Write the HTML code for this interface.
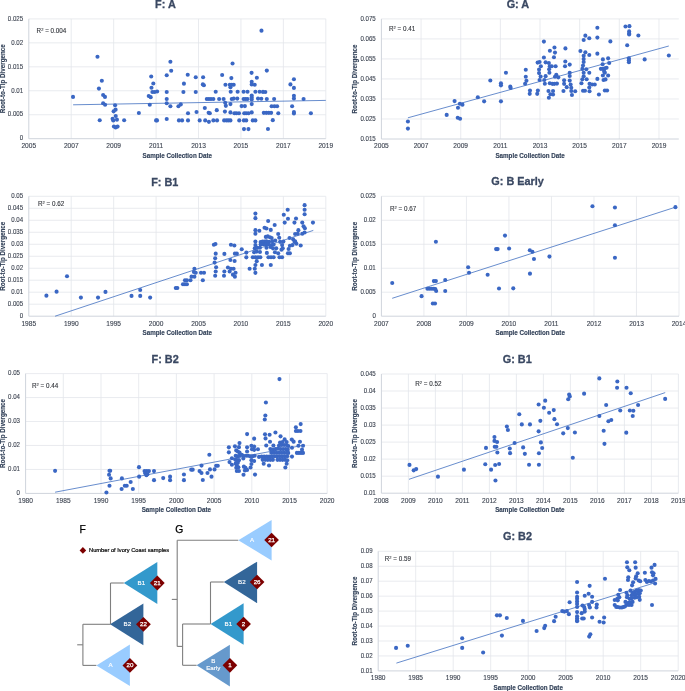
<!DOCTYPE html>
<html><head><meta charset="utf-8"><style>
html,body{margin:0;padding:0;background:#fff;}
body{width:685px;height:691px;overflow:hidden;}
svg{display:block;font-family:"Liberation Sans", sans-serif;will-change:transform;}
</style></head><body>
<svg width="685" height="691" viewBox="0 0 685 691">
<rect width="685" height="691" fill="#fff"/>
<line x1="71.23" y1="18.90" x2="71.23" y2="138.70" stroke="#e3e6eb" stroke-width="0.8"/>
<line x1="113.66" y1="18.90" x2="113.66" y2="138.70" stroke="#e3e6eb" stroke-width="0.8"/>
<line x1="156.09" y1="18.90" x2="156.09" y2="138.70" stroke="#e3e6eb" stroke-width="0.8"/>
<line x1="198.51" y1="18.90" x2="198.51" y2="138.70" stroke="#e3e6eb" stroke-width="0.8"/>
<line x1="240.94" y1="18.90" x2="240.94" y2="138.70" stroke="#e3e6eb" stroke-width="0.8"/>
<line x1="283.37" y1="18.90" x2="283.37" y2="138.70" stroke="#e3e6eb" stroke-width="0.8"/>
<line x1="325.80" y1="18.90" x2="325.80" y2="138.70" stroke="#e3e6eb" stroke-width="0.8"/>
<line x1="28.80" y1="114.74" x2="325.80" y2="114.74" stroke="#e3e6eb" stroke-width="0.8"/>
<line x1="28.80" y1="90.78" x2="325.80" y2="90.78" stroke="#e3e6eb" stroke-width="0.8"/>
<line x1="28.80" y1="66.82" x2="325.80" y2="66.82" stroke="#e3e6eb" stroke-width="0.8"/>
<line x1="28.80" y1="42.86" x2="325.80" y2="42.86" stroke="#e3e6eb" stroke-width="0.8"/>
<line x1="28.80" y1="18.90" x2="325.80" y2="18.90" stroke="#e3e6eb" stroke-width="0.8"/>
<line x1="28.80" y1="18.90" x2="28.80" y2="138.70" stroke="#cfd4dc" stroke-width="1"/>
<line x1="28.80" y1="138.70" x2="325.80" y2="138.70" stroke="#cfd4dc" stroke-width="1"/>
<text x="23.20" y="140.45" text-anchor="end" font-size="6.7" fill="#3e4552" stroke="#3e4552" stroke-width="0.12" textLength="3.41" lengthAdjust="spacingAndGlyphs">0</text>
<text x="23.20" y="116.49" text-anchor="end" font-size="6.7" fill="#3e4552" stroke="#3e4552" stroke-width="0.12" textLength="15.34" lengthAdjust="spacingAndGlyphs">0.005</text>
<text x="23.20" y="92.53" text-anchor="end" font-size="6.7" fill="#3e4552" stroke="#3e4552" stroke-width="0.12" textLength="11.93" lengthAdjust="spacingAndGlyphs">0.01</text>
<text x="23.20" y="68.57" text-anchor="end" font-size="6.7" fill="#3e4552" stroke="#3e4552" stroke-width="0.12" textLength="15.34" lengthAdjust="spacingAndGlyphs">0.015</text>
<text x="23.20" y="44.61" text-anchor="end" font-size="6.7" fill="#3e4552" stroke="#3e4552" stroke-width="0.12" textLength="11.93" lengthAdjust="spacingAndGlyphs">0.02</text>
<text x="23.20" y="20.65" text-anchor="end" font-size="6.7" fill="#3e4552" stroke="#3e4552" stroke-width="0.12" textLength="15.34" lengthAdjust="spacingAndGlyphs">0.025</text>
<text x="28.80" y="148.05" text-anchor="middle" font-size="6.6" fill="#3e4552" stroke="#3e4552" stroke-width="0.12">2005</text>
<text x="71.23" y="148.05" text-anchor="middle" font-size="6.6" fill="#3e4552" stroke="#3e4552" stroke-width="0.12">2007</text>
<text x="113.66" y="148.05" text-anchor="middle" font-size="6.6" fill="#3e4552" stroke="#3e4552" stroke-width="0.12">2009</text>
<text x="156.09" y="148.05" text-anchor="middle" font-size="6.6" fill="#3e4552" stroke="#3e4552" stroke-width="0.12">2011</text>
<text x="198.51" y="148.05" text-anchor="middle" font-size="6.6" fill="#3e4552" stroke="#3e4552" stroke-width="0.12">2013</text>
<text x="240.94" y="148.05" text-anchor="middle" font-size="6.6" fill="#3e4552" stroke="#3e4552" stroke-width="0.12">2015</text>
<text x="283.37" y="148.05" text-anchor="middle" font-size="6.6" fill="#3e4552" stroke="#3e4552" stroke-width="0.12">2017</text>
<text x="325.80" y="148.05" text-anchor="middle" font-size="6.6" fill="#3e4552" stroke="#3e4552" stroke-width="0.12">2019</text>
<text x="177.30" y="157.60" text-anchor="middle" font-size="6.8" font-weight="bold" fill="#34435a" stroke="#34435a" stroke-width="0.15" textLength="69.4" lengthAdjust="spacingAndGlyphs">Sample Collection Date</text>
<text transform="translate(4.70,78.80) rotate(-90)" text-anchor="middle" font-size="6.9" font-weight="bold" fill="#34435a" stroke="#34435a" stroke-width="0.15" textLength="69" lengthAdjust="spacingAndGlyphs">Root-to-Tip Divergence</text>
<text x="165.40" y="8.10" text-anchor="middle" font-size="11.5" font-weight="bold" fill="#3a4862" stroke="#3a4862" stroke-width="0.3" textLength="20.72" lengthAdjust="spacingAndGlyphs">F: A</text>
<text x="36.60" y="33.00" font-size="6.3" fill="#34373d" stroke="#34373d" stroke-width="0.12">R<tspan font-size="4" dy="-2.1">2</tspan><tspan dy="2.1"> = 0.004</tspan></text>
<line x1="73.1" y1="104.8" x2="325.8" y2="100.4" stroke="#4170c0" stroke-width="0.8"/>
<circle cx="97.48" cy="56.82" r="2.05" fill="#3a67c4"/>
<circle cx="101.82" cy="80.74" r="2.05" fill="#3a67c4"/>
<circle cx="98.93" cy="88.62" r="2.05" fill="#3a67c4"/>
<circle cx="103.13" cy="94.93" r="2.05" fill="#3a67c4"/>
<circle cx="104.97" cy="96.9" r="2.05" fill="#3a67c4"/>
<circle cx="103.13" cy="103.2" r="2.05" fill="#3a67c4"/>
<circle cx="105.1" cy="104.78" r="2.05" fill="#3a67c4"/>
<circle cx="99.72" cy="120.28" r="2.05" fill="#3a67c4"/>
<circle cx="115.09" cy="105.31" r="2.05" fill="#3a67c4"/>
<circle cx="115.61" cy="109.64" r="2.05" fill="#3a67c4"/>
<circle cx="113.64" cy="111.35" r="2.05" fill="#3a67c4"/>
<circle cx="115.74" cy="115.95" r="2.05" fill="#3a67c4"/>
<circle cx="112.59" cy="118.84" r="2.05" fill="#3a67c4"/>
<circle cx="113.25" cy="120.55" r="2.05" fill="#3a67c4"/>
<circle cx="116.93" cy="119.63" r="2.05" fill="#3a67c4"/>
<circle cx="113.91" cy="126.46" r="2.05" fill="#3a67c4"/>
<circle cx="117.58" cy="126.59" r="2.05" fill="#3a67c4"/>
<circle cx="115.61" cy="127.38" r="2.05" fill="#3a67c4"/>
<circle cx="124.15" cy="120.28" r="2.05" fill="#3a67c4"/>
<circle cx="138.87" cy="113.06" r="2.05" fill="#3a67c4"/>
<circle cx="151.22" cy="76.53" r="2.05" fill="#3a67c4"/>
<circle cx="153.32" cy="83.5" r="2.05" fill="#3a67c4"/>
<circle cx="151.48" cy="87.7" r="2.05" fill="#3a67c4"/>
<circle cx="152.4" cy="92.04" r="2.05" fill="#3a67c4"/>
<circle cx="154.64" cy="92.04" r="2.05" fill="#3a67c4"/>
<circle cx="157.13" cy="91.51" r="2.05" fill="#3a67c4"/>
<circle cx="148.72" cy="95.98" r="2.05" fill="#3a67c4"/>
<circle cx="150.69" cy="97.16" r="2.05" fill="#3a67c4"/>
<circle cx="149.77" cy="104.78" r="2.05" fill="#3a67c4"/>
<circle cx="156.08" cy="120.42" r="2.05" fill="#3a67c4"/>
<circle cx="157.0" cy="120.42" r="2.05" fill="#3a67c4"/>
<circle cx="170.4" cy="61.82" r="2.05" fill="#3a67c4"/>
<circle cx="171.19" cy="70.75" r="2.05" fill="#3a67c4"/>
<circle cx="166.72" cy="75.22" r="2.05" fill="#3a67c4"/>
<circle cx="166.72" cy="92.04" r="2.05" fill="#3a67c4"/>
<circle cx="166.72" cy="99.0" r="2.05" fill="#3a67c4"/>
<circle cx="166.72" cy="103.2" r="2.05" fill="#3a67c4"/>
<circle cx="170.4" cy="106.23" r="2.05" fill="#3a67c4"/>
<circle cx="166.72" cy="118.97" r="2.05" fill="#3a67c4"/>
<circle cx="73.02" cy="96.9" r="2.05" fill="#3a67c4"/>
<circle cx="187.74" cy="74.82" r="2.05" fill="#3a67c4"/>
<circle cx="183.93" cy="83.63" r="2.05" fill="#3a67c4"/>
<circle cx="183.4" cy="92.04" r="2.05" fill="#3a67c4"/>
<circle cx="178.41" cy="106.23" r="2.05" fill="#3a67c4"/>
<circle cx="180.77" cy="104.39" r="2.05" fill="#3a67c4"/>
<circle cx="188.0" cy="113.32" r="2.05" fill="#3a67c4"/>
<circle cx="178.93" cy="120.42" r="2.05" fill="#3a67c4"/>
<circle cx="182.09" cy="120.42" r="2.05" fill="#3a67c4"/>
<circle cx="188.0" cy="120.42" r="2.05" fill="#3a67c4"/>
<circle cx="195.75" cy="77.32" r="2.05" fill="#3a67c4"/>
<circle cx="195.75" cy="92.04" r="2.05" fill="#3a67c4"/>
<circle cx="196.54" cy="112.01" r="2.05" fill="#3a67c4"/>
<circle cx="199.69" cy="120.42" r="2.05" fill="#3a67c4"/>
<circle cx="203.11" cy="77.32" r="2.05" fill="#3a67c4"/>
<circle cx="202.85" cy="84.42" r="2.05" fill="#3a67c4"/>
<circle cx="203.9" cy="85.2" r="2.05" fill="#3a67c4"/>
<circle cx="204.82" cy="108.07" r="2.05" fill="#3a67c4"/>
<circle cx="206.79" cy="99.0" r="2.05" fill="#3a67c4"/>
<circle cx="208.89" cy="99.0" r="2.05" fill="#3a67c4"/>
<circle cx="210.99" cy="99.0" r="2.05" fill="#3a67c4"/>
<circle cx="213.36" cy="99.0" r="2.05" fill="#3a67c4"/>
<circle cx="208.63" cy="112.8" r="2.05" fill="#3a67c4"/>
<circle cx="209.81" cy="113.32" r="2.05" fill="#3a67c4"/>
<circle cx="205.21" cy="120.42" r="2.05" fill="#3a67c4"/>
<circle cx="208.89" cy="121.86" r="2.05" fill="#3a67c4"/>
<circle cx="213.36" cy="120.42" r="2.05" fill="#3a67c4"/>
<circle cx="217.04" cy="120.42" r="2.05" fill="#3a67c4"/>
<circle cx="215.72" cy="91.77" r="2.05" fill="#3a67c4"/>
<circle cx="216.77" cy="110.17" r="2.05" fill="#3a67c4"/>
<circle cx="219.14" cy="99.0" r="2.05" fill="#3a67c4"/>
<circle cx="222.16" cy="74.96" r="2.05" fill="#3a67c4"/>
<circle cx="223.61" cy="99.0" r="2.05" fill="#3a67c4"/>
<circle cx="224.92" cy="111.61" r="2.05" fill="#3a67c4"/>
<circle cx="225.45" cy="84.81" r="2.05" fill="#3a67c4"/>
<circle cx="225.18" cy="102.81" r="2.05" fill="#3a67c4"/>
<circle cx="225.84" cy="105.83" r="2.05" fill="#3a67c4"/>
<circle cx="224.13" cy="120.42" r="2.05" fill="#3a67c4"/>
<circle cx="226.5" cy="120.42" r="2.05" fill="#3a67c4"/>
<circle cx="228.47" cy="120.42" r="2.05" fill="#3a67c4"/>
<circle cx="230.44" cy="120.42" r="2.05" fill="#3a67c4"/>
<circle cx="232.54" cy="63.53" r="2.05" fill="#3a67c4"/>
<circle cx="231.36" cy="78.11" r="2.05" fill="#3a67c4"/>
<circle cx="229.78" cy="84.81" r="2.05" fill="#3a67c4"/>
<circle cx="231.75" cy="84.81" r="2.05" fill="#3a67c4"/>
<circle cx="233.72" cy="84.81" r="2.05" fill="#3a67c4"/>
<circle cx="230.44" cy="87.31" r="2.05" fill="#3a67c4"/>
<circle cx="230.7" cy="91.77" r="2.05" fill="#3a67c4"/>
<circle cx="231.75" cy="99.0" r="2.05" fill="#3a67c4"/>
<circle cx="233.72" cy="98.61" r="2.05" fill="#3a67c4"/>
<circle cx="230.44" cy="104.12" r="2.05" fill="#3a67c4"/>
<circle cx="230.44" cy="112.4" r="2.05" fill="#3a67c4"/>
<circle cx="237.66" cy="91.77" r="2.05" fill="#3a67c4"/>
<circle cx="237.27" cy="98.61" r="2.05" fill="#3a67c4"/>
<circle cx="234.38" cy="113.32" r="2.05" fill="#3a67c4"/>
<circle cx="236.35" cy="113.32" r="2.05" fill="#3a67c4"/>
<circle cx="238.98" cy="113.32" r="2.05" fill="#3a67c4"/>
<circle cx="239.24" cy="120.42" r="2.05" fill="#3a67c4"/>
<circle cx="243.58" cy="91.77" r="2.05" fill="#3a67c4"/>
<circle cx="247.52" cy="91.77" r="2.05" fill="#3a67c4"/>
<circle cx="243.58" cy="99.0" r="2.05" fill="#3a67c4"/>
<circle cx="245.55" cy="99.0" r="2.05" fill="#3a67c4"/>
<circle cx="247.52" cy="99.0" r="2.05" fill="#3a67c4"/>
<circle cx="241.61" cy="106.09" r="2.05" fill="#3a67c4"/>
<circle cx="244.89" cy="106.09" r="2.05" fill="#3a67c4"/>
<circle cx="244.23" cy="113.32" r="2.05" fill="#3a67c4"/>
<circle cx="246.2" cy="113.32" r="2.05" fill="#3a67c4"/>
<circle cx="248.57" cy="113.32" r="2.05" fill="#3a67c4"/>
<circle cx="243.84" cy="120.42" r="2.05" fill="#3a67c4"/>
<circle cx="246.2" cy="120.42" r="2.05" fill="#3a67c4"/>
<circle cx="243.97" cy="129.09" r="2.05" fill="#3a67c4"/>
<circle cx="248.44" cy="129.09" r="2.05" fill="#3a67c4"/>
<circle cx="251.59" cy="72.85" r="2.05" fill="#3a67c4"/>
<circle cx="256.85" cy="77.72" r="2.05" fill="#3a67c4"/>
<circle cx="251.72" cy="81.79" r="2.05" fill="#3a67c4"/>
<circle cx="251.72" cy="84.42" r="2.05" fill="#3a67c4"/>
<circle cx="254.74" cy="84.81" r="2.05" fill="#3a67c4"/>
<circle cx="255.4" cy="91.77" r="2.05" fill="#3a67c4"/>
<circle cx="259.61" cy="91.77" r="2.05" fill="#3a67c4"/>
<circle cx="251.72" cy="95.58" r="2.05" fill="#3a67c4"/>
<circle cx="251.72" cy="97.55" r="2.05" fill="#3a67c4"/>
<circle cx="251.72" cy="99.53" r="2.05" fill="#3a67c4"/>
<circle cx="258.03" cy="98.61" r="2.05" fill="#3a67c4"/>
<circle cx="251.72" cy="104.12" r="2.05" fill="#3a67c4"/>
<circle cx="251.72" cy="112.4" r="2.05" fill="#3a67c4"/>
<circle cx="252.77" cy="120.42" r="2.05" fill="#3a67c4"/>
<circle cx="255.4" cy="120.42" r="2.05" fill="#3a67c4"/>
<circle cx="261.48" cy="30.65" r="2.05" fill="#3a67c4"/>
<circle cx="266.81" cy="70.58" r="2.05" fill="#3a67c4"/>
<circle cx="262.98" cy="91.88" r="2.05" fill="#3a67c4"/>
<circle cx="265.31" cy="92.05" r="2.05" fill="#3a67c4"/>
<circle cx="261.31" cy="98.7" r="2.05" fill="#3a67c4"/>
<circle cx="266.81" cy="99.03" r="2.05" fill="#3a67c4"/>
<circle cx="274.13" cy="99.03" r="2.05" fill="#3a67c4"/>
<circle cx="271.63" cy="106.19" r="2.05" fill="#3a67c4"/>
<circle cx="274.46" cy="106.19" r="2.05" fill="#3a67c4"/>
<circle cx="277.12" cy="106.19" r="2.05" fill="#3a67c4"/>
<circle cx="263.81" cy="112.85" r="2.05" fill="#3a67c4"/>
<circle cx="266.31" cy="112.85" r="2.05" fill="#3a67c4"/>
<circle cx="268.8" cy="112.85" r="2.05" fill="#3a67c4"/>
<circle cx="271.13" cy="112.85" r="2.05" fill="#3a67c4"/>
<circle cx="278.29" cy="113.18" r="2.05" fill="#3a67c4"/>
<circle cx="272.8" cy="120.17" r="2.05" fill="#3a67c4"/>
<circle cx="267.97" cy="128.99" r="2.05" fill="#3a67c4"/>
<circle cx="293.93" cy="79.23" r="2.05" fill="#3a67c4"/>
<circle cx="290.43" cy="84.39" r="2.05" fill="#3a67c4"/>
<circle cx="293.93" cy="87.89" r="2.05" fill="#3a67c4"/>
<circle cx="293.93" cy="95.71" r="2.05" fill="#3a67c4"/>
<circle cx="293.93" cy="98.54" r="2.05" fill="#3a67c4"/>
<circle cx="303.58" cy="99.03" r="2.05" fill="#3a67c4"/>
<circle cx="292.1" cy="106.19" r="2.05" fill="#3a67c4"/>
<circle cx="293.93" cy="112.01" r="2.05" fill="#3a67c4"/>
<circle cx="293.93" cy="113.51" r="2.05" fill="#3a67c4"/>
<circle cx="310.9" cy="113.18" r="2.05" fill="#3a67c4"/>
<line x1="421.05" y1="18.90" x2="421.05" y2="139.00" stroke="#e3e6eb" stroke-width="0.8"/>
<line x1="460.71" y1="18.90" x2="460.71" y2="139.00" stroke="#e3e6eb" stroke-width="0.8"/>
<line x1="500.36" y1="18.90" x2="500.36" y2="139.00" stroke="#e3e6eb" stroke-width="0.8"/>
<line x1="540.01" y1="18.90" x2="540.01" y2="139.00" stroke="#e3e6eb" stroke-width="0.8"/>
<line x1="579.67" y1="18.90" x2="579.67" y2="139.00" stroke="#e3e6eb" stroke-width="0.8"/>
<line x1="619.32" y1="18.90" x2="619.32" y2="139.00" stroke="#e3e6eb" stroke-width="0.8"/>
<line x1="658.97" y1="18.90" x2="658.97" y2="139.00" stroke="#e3e6eb" stroke-width="0.8"/>
<line x1="381.40" y1="118.98" x2="678.80" y2="118.98" stroke="#e3e6eb" stroke-width="0.8"/>
<line x1="381.40" y1="98.97" x2="678.80" y2="98.97" stroke="#e3e6eb" stroke-width="0.8"/>
<line x1="381.40" y1="78.95" x2="678.80" y2="78.95" stroke="#e3e6eb" stroke-width="0.8"/>
<line x1="381.40" y1="58.93" x2="678.80" y2="58.93" stroke="#e3e6eb" stroke-width="0.8"/>
<line x1="381.40" y1="38.92" x2="678.80" y2="38.92" stroke="#e3e6eb" stroke-width="0.8"/>
<line x1="381.40" y1="18.90" x2="678.80" y2="18.90" stroke="#e3e6eb" stroke-width="0.8"/>
<line x1="381.40" y1="18.90" x2="381.40" y2="139.00" stroke="#cfd4dc" stroke-width="1"/>
<line x1="381.40" y1="139.00" x2="678.80" y2="139.00" stroke="#cfd4dc" stroke-width="1"/>
<text x="375.80" y="140.75" text-anchor="end" font-size="6.7" fill="#3e4552" stroke="#3e4552" stroke-width="0.12" textLength="15.34" lengthAdjust="spacingAndGlyphs">0.015</text>
<text x="375.80" y="120.73" text-anchor="end" font-size="6.7" fill="#3e4552" stroke="#3e4552" stroke-width="0.12" textLength="15.34" lengthAdjust="spacingAndGlyphs">0.025</text>
<text x="375.80" y="100.72" text-anchor="end" font-size="6.7" fill="#3e4552" stroke="#3e4552" stroke-width="0.12" textLength="15.34" lengthAdjust="spacingAndGlyphs">0.035</text>
<text x="375.80" y="80.70" text-anchor="end" font-size="6.7" fill="#3e4552" stroke="#3e4552" stroke-width="0.12" textLength="15.34" lengthAdjust="spacingAndGlyphs">0.045</text>
<text x="375.80" y="60.68" text-anchor="end" font-size="6.7" fill="#3e4552" stroke="#3e4552" stroke-width="0.12" textLength="15.34" lengthAdjust="spacingAndGlyphs">0.055</text>
<text x="375.80" y="40.67" text-anchor="end" font-size="6.7" fill="#3e4552" stroke="#3e4552" stroke-width="0.12" textLength="15.34" lengthAdjust="spacingAndGlyphs">0.065</text>
<text x="375.80" y="20.65" text-anchor="end" font-size="6.7" fill="#3e4552" stroke="#3e4552" stroke-width="0.12" textLength="15.34" lengthAdjust="spacingAndGlyphs">0.075</text>
<text x="381.40" y="148.35" text-anchor="middle" font-size="6.6" fill="#3e4552" stroke="#3e4552" stroke-width="0.12">2005</text>
<text x="421.05" y="148.35" text-anchor="middle" font-size="6.6" fill="#3e4552" stroke="#3e4552" stroke-width="0.12">2007</text>
<text x="460.71" y="148.35" text-anchor="middle" font-size="6.6" fill="#3e4552" stroke="#3e4552" stroke-width="0.12">2009</text>
<text x="500.36" y="148.35" text-anchor="middle" font-size="6.6" fill="#3e4552" stroke="#3e4552" stroke-width="0.12">2011</text>
<text x="540.01" y="148.35" text-anchor="middle" font-size="6.6" fill="#3e4552" stroke="#3e4552" stroke-width="0.12">2013</text>
<text x="579.67" y="148.35" text-anchor="middle" font-size="6.6" fill="#3e4552" stroke="#3e4552" stroke-width="0.12">2015</text>
<text x="619.32" y="148.35" text-anchor="middle" font-size="6.6" fill="#3e4552" stroke="#3e4552" stroke-width="0.12">2017</text>
<text x="658.97" y="148.35" text-anchor="middle" font-size="6.6" fill="#3e4552" stroke="#3e4552" stroke-width="0.12">2019</text>
<text x="530.10" y="157.90" text-anchor="middle" font-size="6.8" font-weight="bold" fill="#34435a" stroke="#34435a" stroke-width="0.15" textLength="69.4" lengthAdjust="spacingAndGlyphs">Sample Collection Date</text>
<text transform="translate(356.60,78.95) rotate(-90)" text-anchor="middle" font-size="6.9" font-weight="bold" fill="#34435a" stroke="#34435a" stroke-width="0.15" textLength="69" lengthAdjust="spacingAndGlyphs">Root-to-Tip Divergence</text>
<text x="517.90" y="8.10" text-anchor="middle" font-size="11.5" font-weight="bold" fill="#3a4862" stroke="#3a4862" stroke-width="0.3" textLength="22.54" lengthAdjust="spacingAndGlyphs">G: A</text>
<text x="389.00" y="30.70" font-size="6.3" fill="#34373d" stroke="#34373d" stroke-width="0.12">R<tspan font-size="4" dy="-2.1">2</tspan><tspan dy="2.1"> = 0.41</tspan></text>
<line x1="407.9" y1="117.8" x2="668.8" y2="46.0" stroke="#4170c0" stroke-width="0.8"/>
<circle cx="407.93" cy="121.49" r="2.05" fill="#3a67c4"/>
<circle cx="407.93" cy="128.58" r="2.05" fill="#3a67c4"/>
<circle cx="446.69" cy="114.92" r="2.05" fill="#3a67c4"/>
<circle cx="454.58" cy="101.12" r="2.05" fill="#3a67c4"/>
<circle cx="459.83" cy="103.75" r="2.05" fill="#3a67c4"/>
<circle cx="462.46" cy="104.67" r="2.05" fill="#3a67c4"/>
<circle cx="457.99" cy="107.82" r="2.05" fill="#3a67c4"/>
<circle cx="457.73" cy="117.81" r="2.05" fill="#3a67c4"/>
<circle cx="460.09" cy="118.73" r="2.05" fill="#3a67c4"/>
<circle cx="477.82" cy="97.28" r="2.05" fill="#3a67c4"/>
<circle cx="484.13" cy="101.36" r="2.05" fill="#3a67c4"/>
<circle cx="490.31" cy="80.47" r="2.05" fill="#3a67c4"/>
<circle cx="500.95" cy="101.36" r="2.05" fill="#3a67c4"/>
<circle cx="500.95" cy="83.36" r="2.05" fill="#3a67c4"/>
<circle cx="500.95" cy="85.33" r="2.05" fill="#3a67c4"/>
<circle cx="505.94" cy="72.72" r="2.05" fill="#3a67c4"/>
<circle cx="510.28" cy="86.64" r="2.05" fill="#3a67c4"/>
<circle cx="510.67" cy="87.96" r="2.05" fill="#3a67c4"/>
<circle cx="525.78" cy="69.69" r="2.05" fill="#3a67c4"/>
<circle cx="525.78" cy="76.79" r="2.05" fill="#3a67c4"/>
<circle cx="526.44" cy="80.73" r="2.05" fill="#3a67c4"/>
<circle cx="525.12" cy="83.75" r="2.05" fill="#3a67c4"/>
<circle cx="529.99" cy="90.58" r="2.05" fill="#3a67c4"/>
<circle cx="529.72" cy="93.87" r="2.05" fill="#3a67c4"/>
<circle cx="537.87" cy="90.58" r="2.05" fill="#3a67c4"/>
<circle cx="537.21" cy="93.87" r="2.05" fill="#3a67c4"/>
<circle cx="543.91" cy="41.58" r="2.05" fill="#3a67c4"/>
<circle cx="543.91" cy="57.47" r="2.05" fill="#3a67c4"/>
<circle cx="537.61" cy="62.6" r="2.05" fill="#3a67c4"/>
<circle cx="539.58" cy="62.07" r="2.05" fill="#3a67c4"/>
<circle cx="540.89" cy="66.28" r="2.05" fill="#3a67c4"/>
<circle cx="539.05" cy="69.56" r="2.05" fill="#3a67c4"/>
<circle cx="539.05" cy="73.11" r="2.05" fill="#3a67c4"/>
<circle cx="540.63" cy="76.53" r="2.05" fill="#3a67c4"/>
<circle cx="539.58" cy="80.07" r="2.05" fill="#3a67c4"/>
<circle cx="544.31" cy="80.07" r="2.05" fill="#3a67c4"/>
<circle cx="544.83" cy="83.75" r="2.05" fill="#3a67c4"/>
<circle cx="545.62" cy="62.34" r="2.05" fill="#3a67c4"/>
<circle cx="545.62" cy="76.13" r="2.05" fill="#3a67c4"/>
<circle cx="549.91" cy="50.76" r="2.05" fill="#3a67c4"/>
<circle cx="554.47" cy="47.5" r="2.05" fill="#3a67c4"/>
<circle cx="554.99" cy="52.59" r="2.05" fill="#3a67c4"/>
<circle cx="553.95" cy="57.28" r="2.05" fill="#3a67c4"/>
<circle cx="565.42" cy="48.42" r="2.05" fill="#3a67c4"/>
<circle cx="565.29" cy="61.45" r="2.05" fill="#3a67c4"/>
<circle cx="565.03" cy="66.28" r="2.05" fill="#3a67c4"/>
<circle cx="569.72" cy="64.58" r="2.05" fill="#3a67c4"/>
<circle cx="548.86" cy="63.02" r="2.05" fill="#3a67c4"/>
<circle cx="549.78" cy="66.28" r="2.05" fill="#3a67c4"/>
<circle cx="551.73" cy="66.28" r="2.05" fill="#3a67c4"/>
<circle cx="555.64" cy="66.28" r="2.05" fill="#3a67c4"/>
<circle cx="549.12" cy="69.27" r="2.05" fill="#3a67c4"/>
<circle cx="549.39" cy="72.79" r="2.05" fill="#3a67c4"/>
<circle cx="556.29" cy="74.75" r="2.05" fill="#3a67c4"/>
<circle cx="554.99" cy="76.7" r="2.05" fill="#3a67c4"/>
<circle cx="558.25" cy="77.36" r="2.05" fill="#3a67c4"/>
<circle cx="569.72" cy="72.79" r="2.05" fill="#3a67c4"/>
<circle cx="569.72" cy="76.05" r="2.05" fill="#3a67c4"/>
<circle cx="569.72" cy="80.61" r="2.05" fill="#3a67c4"/>
<circle cx="564.12" cy="80.22" r="2.05" fill="#3a67c4"/>
<circle cx="564.12" cy="83.87" r="2.05" fill="#3a67c4"/>
<circle cx="549.78" cy="83.22" r="2.05" fill="#3a67c4"/>
<circle cx="552.38" cy="83.87" r="2.05" fill="#3a67c4"/>
<circle cx="554.34" cy="83.87" r="2.05" fill="#3a67c4"/>
<circle cx="556.95" cy="83.61" r="2.05" fill="#3a67c4"/>
<circle cx="548.47" cy="91.04" r="2.05" fill="#3a67c4"/>
<circle cx="553.04" cy="91.04" r="2.05" fill="#3a67c4"/>
<circle cx="550.43" cy="94.3" r="2.05" fill="#3a67c4"/>
<circle cx="553.04" cy="94.56" r="2.05" fill="#3a67c4"/>
<circle cx="548.86" cy="97.82" r="2.05" fill="#3a67c4"/>
<circle cx="563.46" cy="91.04" r="2.05" fill="#3a67c4"/>
<circle cx="566.72" cy="87.13" r="2.05" fill="#3a67c4"/>
<circle cx="570.63" cy="84.53" r="2.05" fill="#3a67c4"/>
<circle cx="571.28" cy="87.78" r="2.05" fill="#3a67c4"/>
<circle cx="571.28" cy="91.04" r="2.05" fill="#3a67c4"/>
<circle cx="571.94" cy="94.95" r="2.05" fill="#3a67c4"/>
<circle cx="575.2" cy="91.3" r="2.05" fill="#3a67c4"/>
<circle cx="580.41" cy="51.02" r="2.05" fill="#3a67c4"/>
<circle cx="585.36" cy="52.33" r="2.05" fill="#3a67c4"/>
<circle cx="583.67" cy="55.85" r="2.05" fill="#3a67c4"/>
<circle cx="583.67" cy="59.11" r="2.05" fill="#3a67c4"/>
<circle cx="583.67" cy="61.97" r="2.05" fill="#3a67c4"/>
<circle cx="583.02" cy="65.62" r="2.05" fill="#3a67c4"/>
<circle cx="582.36" cy="68.88" r="2.05" fill="#3a67c4"/>
<circle cx="586.28" cy="69.27" r="2.05" fill="#3a67c4"/>
<circle cx="583.67" cy="72.79" r="2.05" fill="#3a67c4"/>
<circle cx="583.67" cy="76.31" r="2.05" fill="#3a67c4"/>
<circle cx="582.36" cy="79.31" r="2.05" fill="#3a67c4"/>
<circle cx="581.45" cy="83.22" r="2.05" fill="#3a67c4"/>
<circle cx="586.67" cy="79.31" r="2.05" fill="#3a67c4"/>
<circle cx="583.67" cy="39.94" r="2.05" fill="#3a67c4"/>
<circle cx="585.36" cy="35.64" r="2.05" fill="#3a67c4"/>
<circle cx="589.27" cy="38.25" r="2.05" fill="#3a67c4"/>
<circle cx="597.36" cy="27.82" r="2.05" fill="#3a67c4"/>
<circle cx="597.36" cy="37.6" r="2.05" fill="#3a67c4"/>
<circle cx="589.27" cy="54.93" r="2.05" fill="#3a67c4"/>
<circle cx="597.36" cy="53.63" r="2.05" fill="#3a67c4"/>
<circle cx="589.27" cy="72.79" r="2.05" fill="#3a67c4"/>
<circle cx="589.53" cy="83.87" r="2.05" fill="#3a67c4"/>
<circle cx="592.14" cy="84.53" r="2.05" fill="#3a67c4"/>
<circle cx="594.75" cy="84.53" r="2.05" fill="#3a67c4"/>
<circle cx="589.27" cy="87.52" r="2.05" fill="#3a67c4"/>
<circle cx="583.02" cy="90.78" r="2.05" fill="#3a67c4"/>
<circle cx="584.97" cy="90.78" r="2.05" fill="#3a67c4"/>
<circle cx="589.53" cy="91.3" r="2.05" fill="#3a67c4"/>
<circle cx="597.36" cy="78.92" r="2.05" fill="#3a67c4"/>
<circle cx="598.92" cy="94.56" r="2.05" fill="#3a67c4"/>
<circle cx="610.37" cy="41.41" r="2.05" fill="#3a67c4"/>
<circle cx="602.88" cy="59.41" r="2.05" fill="#3a67c4"/>
<circle cx="608.14" cy="58.36" r="2.05" fill="#3a67c4"/>
<circle cx="609.19" cy="62.96" r="2.05" fill="#3a67c4"/>
<circle cx="602.62" cy="64.27" r="2.05" fill="#3a67c4"/>
<circle cx="600.91" cy="68.87" r="2.05" fill="#3a67c4"/>
<circle cx="602.88" cy="68.87" r="2.05" fill="#3a67c4"/>
<circle cx="604.85" cy="68.21" r="2.05" fill="#3a67c4"/>
<circle cx="606.56" cy="67.82" r="2.05" fill="#3a67c4"/>
<circle cx="604.2" cy="71.5" r="2.05" fill="#3a67c4"/>
<circle cx="604.85" cy="72.81" r="2.05" fill="#3a67c4"/>
<circle cx="602.88" cy="75.44" r="2.05" fill="#3a67c4"/>
<circle cx="608.14" cy="75.44" r="2.05" fill="#3a67c4"/>
<circle cx="603.54" cy="80.04" r="2.05" fill="#3a67c4"/>
<circle cx="605.51" cy="79.38" r="2.05" fill="#3a67c4"/>
<circle cx="604.85" cy="90.55" r="2.05" fill="#3a67c4"/>
<circle cx="607.09" cy="90.55" r="2.05" fill="#3a67c4"/>
<circle cx="625.48" cy="26.56" r="2.05" fill="#3a67c4"/>
<circle cx="629.42" cy="26.17" r="2.05" fill="#3a67c4"/>
<circle cx="629.16" cy="31.42" r="2.05" fill="#3a67c4"/>
<circle cx="629.16" cy="33.39" r="2.05" fill="#3a67c4"/>
<circle cx="629.16" cy="34.45" r="2.05" fill="#3a67c4"/>
<circle cx="638.36" cy="35.5" r="2.05" fill="#3a67c4"/>
<circle cx="627.19" cy="45.22" r="2.05" fill="#3a67c4"/>
<circle cx="628.9" cy="58.36" r="2.05" fill="#3a67c4"/>
<circle cx="628.9" cy="60.33" r="2.05" fill="#3a67c4"/>
<circle cx="628.9" cy="62.3" r="2.05" fill="#3a67c4"/>
<circle cx="644.66" cy="59.41" r="2.05" fill="#3a67c4"/>
<circle cx="668.84" cy="55.47" r="2.05" fill="#3a67c4"/>
<line x1="71.23" y1="196.30" x2="71.23" y2="316.20" stroke="#e3e6eb" stroke-width="0.8"/>
<line x1="113.66" y1="196.30" x2="113.66" y2="316.20" stroke="#e3e6eb" stroke-width="0.8"/>
<line x1="156.09" y1="196.30" x2="156.09" y2="316.20" stroke="#e3e6eb" stroke-width="0.8"/>
<line x1="198.51" y1="196.30" x2="198.51" y2="316.20" stroke="#e3e6eb" stroke-width="0.8"/>
<line x1="240.94" y1="196.30" x2="240.94" y2="316.20" stroke="#e3e6eb" stroke-width="0.8"/>
<line x1="283.37" y1="196.30" x2="283.37" y2="316.20" stroke="#e3e6eb" stroke-width="0.8"/>
<line x1="325.80" y1="196.30" x2="325.80" y2="316.20" stroke="#e3e6eb" stroke-width="0.8"/>
<line x1="28.80" y1="304.21" x2="325.80" y2="304.21" stroke="#e3e6eb" stroke-width="0.8"/>
<line x1="28.80" y1="292.22" x2="325.80" y2="292.22" stroke="#e3e6eb" stroke-width="0.8"/>
<line x1="28.80" y1="280.23" x2="325.80" y2="280.23" stroke="#e3e6eb" stroke-width="0.8"/>
<line x1="28.80" y1="268.24" x2="325.80" y2="268.24" stroke="#e3e6eb" stroke-width="0.8"/>
<line x1="28.80" y1="256.25" x2="325.80" y2="256.25" stroke="#e3e6eb" stroke-width="0.8"/>
<line x1="28.80" y1="244.26" x2="325.80" y2="244.26" stroke="#e3e6eb" stroke-width="0.8"/>
<line x1="28.80" y1="232.27" x2="325.80" y2="232.27" stroke="#e3e6eb" stroke-width="0.8"/>
<line x1="28.80" y1="220.28" x2="325.80" y2="220.28" stroke="#e3e6eb" stroke-width="0.8"/>
<line x1="28.80" y1="208.29" x2="325.80" y2="208.29" stroke="#e3e6eb" stroke-width="0.8"/>
<line x1="28.80" y1="196.30" x2="325.80" y2="196.30" stroke="#e3e6eb" stroke-width="0.8"/>
<line x1="28.80" y1="196.30" x2="28.80" y2="316.20" stroke="#cfd4dc" stroke-width="1"/>
<line x1="28.80" y1="316.20" x2="325.80" y2="316.20" stroke="#cfd4dc" stroke-width="1"/>
<text x="23.20" y="317.95" text-anchor="end" font-size="6.7" fill="#3e4552" stroke="#3e4552" stroke-width="0.12" textLength="3.41" lengthAdjust="spacingAndGlyphs">0</text>
<text x="23.20" y="305.96" text-anchor="end" font-size="6.7" fill="#3e4552" stroke="#3e4552" stroke-width="0.12" textLength="15.34" lengthAdjust="spacingAndGlyphs">0.005</text>
<text x="23.20" y="293.97" text-anchor="end" font-size="6.7" fill="#3e4552" stroke="#3e4552" stroke-width="0.12" textLength="11.93" lengthAdjust="spacingAndGlyphs">0.01</text>
<text x="23.20" y="281.98" text-anchor="end" font-size="6.7" fill="#3e4552" stroke="#3e4552" stroke-width="0.12" textLength="15.34" lengthAdjust="spacingAndGlyphs">0.015</text>
<text x="23.20" y="269.99" text-anchor="end" font-size="6.7" fill="#3e4552" stroke="#3e4552" stroke-width="0.12" textLength="11.93" lengthAdjust="spacingAndGlyphs">0.02</text>
<text x="23.20" y="258.00" text-anchor="end" font-size="6.7" fill="#3e4552" stroke="#3e4552" stroke-width="0.12" textLength="15.34" lengthAdjust="spacingAndGlyphs">0.025</text>
<text x="23.20" y="246.01" text-anchor="end" font-size="6.7" fill="#3e4552" stroke="#3e4552" stroke-width="0.12" textLength="11.93" lengthAdjust="spacingAndGlyphs">0.03</text>
<text x="23.20" y="234.02" text-anchor="end" font-size="6.7" fill="#3e4552" stroke="#3e4552" stroke-width="0.12" textLength="15.34" lengthAdjust="spacingAndGlyphs">0.035</text>
<text x="23.20" y="222.03" text-anchor="end" font-size="6.7" fill="#3e4552" stroke="#3e4552" stroke-width="0.12" textLength="11.93" lengthAdjust="spacingAndGlyphs">0.04</text>
<text x="23.20" y="210.04" text-anchor="end" font-size="6.7" fill="#3e4552" stroke="#3e4552" stroke-width="0.12" textLength="15.34" lengthAdjust="spacingAndGlyphs">0.045</text>
<text x="23.20" y="198.05" text-anchor="end" font-size="6.7" fill="#3e4552" stroke="#3e4552" stroke-width="0.12" textLength="11.93" lengthAdjust="spacingAndGlyphs">0.05</text>
<text x="28.80" y="325.55" text-anchor="middle" font-size="6.6" fill="#3e4552" stroke="#3e4552" stroke-width="0.12">1985</text>
<text x="71.23" y="325.55" text-anchor="middle" font-size="6.6" fill="#3e4552" stroke="#3e4552" stroke-width="0.12">1990</text>
<text x="113.66" y="325.55" text-anchor="middle" font-size="6.6" fill="#3e4552" stroke="#3e4552" stroke-width="0.12">1995</text>
<text x="156.09" y="325.55" text-anchor="middle" font-size="6.6" fill="#3e4552" stroke="#3e4552" stroke-width="0.12">2000</text>
<text x="198.51" y="325.55" text-anchor="middle" font-size="6.6" fill="#3e4552" stroke="#3e4552" stroke-width="0.12">2005</text>
<text x="240.94" y="325.55" text-anchor="middle" font-size="6.6" fill="#3e4552" stroke="#3e4552" stroke-width="0.12">2010</text>
<text x="283.37" y="325.55" text-anchor="middle" font-size="6.6" fill="#3e4552" stroke="#3e4552" stroke-width="0.12">2015</text>
<text x="325.80" y="325.55" text-anchor="middle" font-size="6.6" fill="#3e4552" stroke="#3e4552" stroke-width="0.12">2020</text>
<text x="177.30" y="335.10" text-anchor="middle" font-size="6.8" font-weight="bold" fill="#34435a" stroke="#34435a" stroke-width="0.15" textLength="69.4" lengthAdjust="spacingAndGlyphs">Sample Collection Date</text>
<text transform="translate(4.70,256.25) rotate(-90)" text-anchor="middle" font-size="6.9" font-weight="bold" fill="#34435a" stroke="#34435a" stroke-width="0.15" textLength="69" lengthAdjust="spacingAndGlyphs">Root-to-Tip Divergence</text>
<text x="164.80" y="185.60" text-anchor="middle" font-size="11.5" font-weight="bold" fill="#3a4862" stroke="#3a4862" stroke-width="0.3" textLength="27.17" lengthAdjust="spacingAndGlyphs">F: B1</text>
<text x="38.00" y="205.70" font-size="6.3" fill="#34373d" stroke="#34373d" stroke-width="0.12">R<tspan font-size="4" dy="-2.1">2</tspan><tspan dy="2.1"> = 0.62</tspan></text>
<line x1="55.1" y1="316.2" x2="313.3" y2="230.4" stroke="#4170c0" stroke-width="0.8"/>
<circle cx="46.41" cy="295.64" r="2.05" fill="#3a67c4"/>
<circle cx="56.58" cy="291.66" r="2.05" fill="#3a67c4"/>
<circle cx="80.91" cy="297.62" r="2.05" fill="#3a67c4"/>
<circle cx="98.03" cy="297.62" r="2.05" fill="#3a67c4"/>
<circle cx="105.47" cy="291.91" r="2.05" fill="#3a67c4"/>
<circle cx="131.53" cy="295.88" r="2.05" fill="#3a67c4"/>
<circle cx="140.22" cy="289.93" r="2.05" fill="#3a67c4"/>
<circle cx="140.22" cy="295.88" r="2.05" fill="#3a67c4"/>
<circle cx="150.15" cy="297.62" r="2.05" fill="#3a67c4"/>
<circle cx="175.77" cy="288.07" r="2.05" fill="#3a67c4"/>
<circle cx="177.34" cy="288.07" r="2.05" fill="#3a67c4"/>
<circle cx="182.99" cy="284.26" r="2.05" fill="#3a67c4"/>
<circle cx="184.96" cy="284.26" r="2.05" fill="#3a67c4"/>
<circle cx="186.93" cy="284.26" r="2.05" fill="#3a67c4"/>
<circle cx="184.96" cy="280.32" r="2.05" fill="#3a67c4"/>
<circle cx="186.93" cy="280.32" r="2.05" fill="#3a67c4"/>
<circle cx="190.48" cy="280.32" r="2.05" fill="#3a67c4"/>
<circle cx="191.53" cy="276.64" r="2.05" fill="#3a67c4"/>
<circle cx="194.42" cy="276.64" r="2.05" fill="#3a67c4"/>
<circle cx="194.42" cy="268.76" r="2.05" fill="#3a67c4"/>
<circle cx="193.9" cy="272.04" r="2.05" fill="#3a67c4"/>
<circle cx="195.74" cy="272.7" r="2.05" fill="#3a67c4"/>
<circle cx="200.99" cy="272.7" r="2.05" fill="#3a67c4"/>
<circle cx="204.01" cy="272.7" r="2.05" fill="#3a67c4"/>
<circle cx="202.83" cy="280.32" r="2.05" fill="#3a67c4"/>
<circle cx="213.87" cy="244.72" r="2.05" fill="#3a67c4"/>
<circle cx="215.45" cy="244.06" r="2.05" fill="#3a67c4"/>
<circle cx="215.71" cy="253.65" r="2.05" fill="#3a67c4"/>
<circle cx="215.18" cy="258.25" r="2.05" fill="#3a67c4"/>
<circle cx="214.66" cy="262.58" r="2.05" fill="#3a67c4"/>
<circle cx="216.1" cy="267.18" r="2.05" fill="#3a67c4"/>
<circle cx="215.71" cy="271.52" r="2.05" fill="#3a67c4"/>
<circle cx="215.18" cy="275.72" r="2.05" fill="#3a67c4"/>
<circle cx="224.38" cy="253.91" r="2.05" fill="#3a67c4"/>
<circle cx="224.38" cy="271.52" r="2.05" fill="#3a67c4"/>
<circle cx="223.99" cy="275.72" r="2.05" fill="#3a67c4"/>
<circle cx="230.95" cy="244.72" r="2.05" fill="#3a67c4"/>
<circle cx="234.36" cy="245.5" r="2.05" fill="#3a67c4"/>
<circle cx="230.42" cy="259.96" r="2.05" fill="#3a67c4"/>
<circle cx="234.63" cy="261.01" r="2.05" fill="#3a67c4"/>
<circle cx="234.89" cy="253.65" r="2.05" fill="#3a67c4"/>
<circle cx="236.86" cy="253.65" r="2.05" fill="#3a67c4"/>
<circle cx="227.93" cy="267.45" r="2.05" fill="#3a67c4"/>
<circle cx="230.95" cy="268.76" r="2.05" fill="#3a67c4"/>
<circle cx="233.58" cy="268.76" r="2.05" fill="#3a67c4"/>
<circle cx="229.64" cy="271.52" r="2.05" fill="#3a67c4"/>
<circle cx="235.55" cy="272.7" r="2.05" fill="#3a67c4"/>
<circle cx="232.92" cy="274.67" r="2.05" fill="#3a67c4"/>
<circle cx="234.89" cy="276.64" r="2.05" fill="#3a67c4"/>
<circle cx="241.72" cy="249.31" r="2.05" fill="#3a67c4"/>
<circle cx="246.32" cy="252.6" r="2.05" fill="#3a67c4"/>
<circle cx="246.32" cy="257.33" r="2.05" fill="#3a67c4"/>
<circle cx="249.61" cy="268.76" r="2.05" fill="#3a67c4"/>
<circle cx="255.41" cy="213.61" r="2.05" fill="#3a67c4"/>
<circle cx="255.41" cy="218.17" r="2.05" fill="#3a67c4"/>
<circle cx="255.41" cy="230.15" r="2.05" fill="#3a67c4"/>
<circle cx="259.32" cy="230.8" r="2.05" fill="#3a67c4"/>
<circle cx="255.41" cy="233.79" r="2.05" fill="#3a67c4"/>
<circle cx="264.53" cy="227.8" r="2.05" fill="#3a67c4"/>
<circle cx="266.48" cy="228.45" r="2.05" fill="#3a67c4"/>
<circle cx="270.77" cy="229.89" r="2.05" fill="#3a67c4"/>
<circle cx="268.17" cy="221.03" r="2.05" fill="#3a67c4"/>
<circle cx="274.68" cy="224.94" r="2.05" fill="#3a67c4"/>
<circle cx="278.19" cy="234.05" r="2.05" fill="#3a67c4"/>
<circle cx="279.23" cy="237.7" r="2.05" fill="#3a67c4"/>
<circle cx="265.83" cy="236.91" r="2.05" fill="#3a67c4"/>
<circle cx="267.78" cy="236.39" r="2.05" fill="#3a67c4"/>
<circle cx="269.99" cy="237.3" r="2.05" fill="#3a67c4"/>
<circle cx="271.68" cy="237.96" r="2.05" fill="#3a67c4"/>
<circle cx="255.41" cy="241.6" r="2.05" fill="#3a67c4"/>
<circle cx="260.62" cy="242.12" r="2.05" fill="#3a67c4"/>
<circle cx="262.57" cy="241.6" r="2.05" fill="#3a67c4"/>
<circle cx="264.53" cy="241.6" r="2.05" fill="#3a67c4"/>
<circle cx="266.48" cy="241.21" r="2.05" fill="#3a67c4"/>
<circle cx="269.08" cy="241.86" r="2.05" fill="#3a67c4"/>
<circle cx="272.34" cy="241.21" r="2.05" fill="#3a67c4"/>
<circle cx="275.2" cy="240.56" r="2.05" fill="#3a67c4"/>
<circle cx="255.41" cy="245.11" r="2.05" fill="#3a67c4"/>
<circle cx="260.62" cy="244.46" r="2.05" fill="#3a67c4"/>
<circle cx="263.22" cy="244.2" r="2.05" fill="#3a67c4"/>
<circle cx="265.83" cy="244.46" r="2.05" fill="#3a67c4"/>
<circle cx="268.43" cy="244.2" r="2.05" fill="#3a67c4"/>
<circle cx="271.68" cy="245.11" r="2.05" fill="#3a67c4"/>
<circle cx="273.64" cy="244.46" r="2.05" fill="#3a67c4"/>
<circle cx="254.76" cy="248.37" r="2.05" fill="#3a67c4"/>
<circle cx="257.37" cy="247.72" r="2.05" fill="#3a67c4"/>
<circle cx="259.97" cy="247.72" r="2.05" fill="#3a67c4"/>
<circle cx="266.48" cy="247.72" r="2.05" fill="#3a67c4"/>
<circle cx="270.38" cy="247.07" r="2.05" fill="#3a67c4"/>
<circle cx="272.99" cy="248.37" r="2.05" fill="#3a67c4"/>
<circle cx="276.24" cy="248.37" r="2.05" fill="#3a67c4"/>
<circle cx="254.11" cy="252.27" r="2.05" fill="#3a67c4"/>
<circle cx="256.72" cy="251.62" r="2.05" fill="#3a67c4"/>
<circle cx="259.97" cy="252.01" r="2.05" fill="#3a67c4"/>
<circle cx="266.87" cy="252.92" r="2.05" fill="#3a67c4"/>
<circle cx="274.94" cy="252.27" r="2.05" fill="#3a67c4"/>
<circle cx="278.19" cy="253.32" r="2.05" fill="#3a67c4"/>
<circle cx="252.81" cy="257.22" r="2.05" fill="#3a67c4"/>
<circle cx="255.41" cy="257.22" r="2.05" fill="#3a67c4"/>
<circle cx="258.02" cy="257.22" r="2.05" fill="#3a67c4"/>
<circle cx="260.36" cy="257.22" r="2.05" fill="#3a67c4"/>
<circle cx="268.43" cy="257.22" r="2.05" fill="#3a67c4"/>
<circle cx="271.03" cy="257.22" r="2.05" fill="#3a67c4"/>
<circle cx="273.64" cy="257.22" r="2.05" fill="#3a67c4"/>
<circle cx="279.49" cy="257.22" r="2.05" fill="#3a67c4"/>
<circle cx="282.1" cy="257.22" r="2.05" fill="#3a67c4"/>
<circle cx="256.72" cy="261.13" r="2.05" fill="#3a67c4"/>
<circle cx="255.41" cy="265.03" r="2.05" fill="#3a67c4"/>
<circle cx="254.76" cy="268.81" r="2.05" fill="#3a67c4"/>
<circle cx="255.41" cy="272.84" r="2.05" fill="#3a67c4"/>
<circle cx="261.92" cy="265.03" r="2.05" fill="#3a67c4"/>
<circle cx="270.77" cy="265.03" r="2.05" fill="#3a67c4"/>
<circle cx="280.15" cy="241.86" r="2.05" fill="#3a67c4"/>
<circle cx="282.1" cy="245.11" r="2.05" fill="#3a67c4"/>
<circle cx="282.75" cy="248.37" r="2.05" fill="#3a67c4"/>
<circle cx="281.45" cy="249.67" r="2.05" fill="#3a67c4"/>
<circle cx="283.79" cy="214.79" r="2.05" fill="#3a67c4"/>
<circle cx="287.7" cy="209.71" r="2.05" fill="#3a67c4"/>
<circle cx="287.96" cy="218.69" r="2.05" fill="#3a67c4"/>
<circle cx="284.7" cy="222.6" r="2.05" fill="#3a67c4"/>
<circle cx="283.4" cy="241.6" r="2.05" fill="#3a67c4"/>
<circle cx="289.52" cy="237.96" r="2.05" fill="#3a67c4"/>
<circle cx="289.91" cy="245.77" r="2.05" fill="#3a67c4"/>
<circle cx="292.51" cy="245.11" r="2.05" fill="#3a67c4"/>
<circle cx="288.61" cy="249.02" r="2.05" fill="#3a67c4"/>
<circle cx="287.96" cy="253.32" r="2.05" fill="#3a67c4"/>
<circle cx="289.91" cy="253.32" r="2.05" fill="#3a67c4"/>
<circle cx="294.46" cy="222.6" r="2.05" fill="#3a67c4"/>
<circle cx="296.03" cy="218.43" r="2.05" fill="#3a67c4"/>
<circle cx="295.11" cy="234.05" r="2.05" fill="#3a67c4"/>
<circle cx="297.72" cy="233.79" r="2.05" fill="#3a67c4"/>
<circle cx="298.37" cy="230.15" r="2.05" fill="#3a67c4"/>
<circle cx="293.16" cy="239.26" r="2.05" fill="#3a67c4"/>
<circle cx="295.11" cy="241.21" r="2.05" fill="#3a67c4"/>
<circle cx="296.42" cy="243.81" r="2.05" fill="#3a67c4"/>
<circle cx="294.46" cy="241.86" r="2.05" fill="#3a67c4"/>
<circle cx="300.71" cy="245.51" r="2.05" fill="#3a67c4"/>
<circle cx="302.27" cy="222.6" r="2.05" fill="#3a67c4"/>
<circle cx="303.58" cy="226.24" r="2.05" fill="#3a67c4"/>
<circle cx="304.88" cy="228.19" r="2.05" fill="#3a67c4"/>
<circle cx="302.27" cy="233.79" r="2.05" fill="#3a67c4"/>
<circle cx="304.62" cy="232.49" r="2.05" fill="#3a67c4"/>
<circle cx="304.62" cy="205.15" r="2.05" fill="#3a67c4"/>
<circle cx="304.62" cy="209.71" r="2.05" fill="#3a67c4"/>
<circle cx="304.62" cy="214.26" r="2.05" fill="#3a67c4"/>
<circle cx="312.95" cy="222.6" r="2.05" fill="#3a67c4"/>
<circle cx="67.01" cy="276.32" r="2.05" fill="#3a67c4"/>
<line x1="423.91" y1="196.30" x2="423.91" y2="316.20" stroke="#e3e6eb" stroke-width="0.8"/>
<line x1="466.43" y1="196.30" x2="466.43" y2="316.20" stroke="#e3e6eb" stroke-width="0.8"/>
<line x1="508.94" y1="196.30" x2="508.94" y2="316.20" stroke="#e3e6eb" stroke-width="0.8"/>
<line x1="551.46" y1="196.30" x2="551.46" y2="316.20" stroke="#e3e6eb" stroke-width="0.8"/>
<line x1="593.97" y1="196.30" x2="593.97" y2="316.20" stroke="#e3e6eb" stroke-width="0.8"/>
<line x1="636.49" y1="196.30" x2="636.49" y2="316.20" stroke="#e3e6eb" stroke-width="0.8"/>
<line x1="679.00" y1="196.30" x2="679.00" y2="316.20" stroke="#e3e6eb" stroke-width="0.8"/>
<line x1="381.40" y1="292.22" x2="679.00" y2="292.22" stroke="#e3e6eb" stroke-width="0.8"/>
<line x1="381.40" y1="268.24" x2="679.00" y2="268.24" stroke="#e3e6eb" stroke-width="0.8"/>
<line x1="381.40" y1="244.26" x2="679.00" y2="244.26" stroke="#e3e6eb" stroke-width="0.8"/>
<line x1="381.40" y1="220.28" x2="679.00" y2="220.28" stroke="#e3e6eb" stroke-width="0.8"/>
<line x1="381.40" y1="196.30" x2="679.00" y2="196.30" stroke="#e3e6eb" stroke-width="0.8"/>
<line x1="381.40" y1="196.30" x2="381.40" y2="316.20" stroke="#cfd4dc" stroke-width="1"/>
<line x1="381.40" y1="316.20" x2="679.00" y2="316.20" stroke="#cfd4dc" stroke-width="1"/>
<text x="375.80" y="317.95" text-anchor="end" font-size="6.7" fill="#3e4552" stroke="#3e4552" stroke-width="0.12" textLength="3.41" lengthAdjust="spacingAndGlyphs">0</text>
<text x="375.80" y="293.97" text-anchor="end" font-size="6.7" fill="#3e4552" stroke="#3e4552" stroke-width="0.12" textLength="15.34" lengthAdjust="spacingAndGlyphs">0.005</text>
<text x="375.80" y="269.99" text-anchor="end" font-size="6.7" fill="#3e4552" stroke="#3e4552" stroke-width="0.12" textLength="11.93" lengthAdjust="spacingAndGlyphs">0.01</text>
<text x="375.80" y="246.01" text-anchor="end" font-size="6.7" fill="#3e4552" stroke="#3e4552" stroke-width="0.12" textLength="15.34" lengthAdjust="spacingAndGlyphs">0.015</text>
<text x="375.80" y="222.03" text-anchor="end" font-size="6.7" fill="#3e4552" stroke="#3e4552" stroke-width="0.12" textLength="11.93" lengthAdjust="spacingAndGlyphs">0.02</text>
<text x="375.80" y="198.05" text-anchor="end" font-size="6.7" fill="#3e4552" stroke="#3e4552" stroke-width="0.12" textLength="15.34" lengthAdjust="spacingAndGlyphs">0.025</text>
<text x="381.40" y="325.55" text-anchor="middle" font-size="6.6" fill="#3e4552" stroke="#3e4552" stroke-width="0.12">2007</text>
<text x="423.91" y="325.55" text-anchor="middle" font-size="6.6" fill="#3e4552" stroke="#3e4552" stroke-width="0.12">2008</text>
<text x="466.43" y="325.55" text-anchor="middle" font-size="6.6" fill="#3e4552" stroke="#3e4552" stroke-width="0.12">2009</text>
<text x="508.94" y="325.55" text-anchor="middle" font-size="6.6" fill="#3e4552" stroke="#3e4552" stroke-width="0.12">2010</text>
<text x="551.46" y="325.55" text-anchor="middle" font-size="6.6" fill="#3e4552" stroke="#3e4552" stroke-width="0.12">2011</text>
<text x="593.97" y="325.55" text-anchor="middle" font-size="6.6" fill="#3e4552" stroke="#3e4552" stroke-width="0.12">2012</text>
<text x="636.49" y="325.55" text-anchor="middle" font-size="6.6" fill="#3e4552" stroke="#3e4552" stroke-width="0.12">2013</text>
<text x="679.00" y="325.55" text-anchor="middle" font-size="6.6" fill="#3e4552" stroke="#3e4552" stroke-width="0.12">2014</text>
<text x="530.20" y="335.10" text-anchor="middle" font-size="6.8" font-weight="bold" fill="#34435a" stroke="#34435a" stroke-width="0.15" textLength="69.4" lengthAdjust="spacingAndGlyphs">Sample Collection Date</text>
<text transform="translate(356.60,256.25) rotate(-90)" text-anchor="middle" font-size="6.9" font-weight="bold" fill="#34435a" stroke="#34435a" stroke-width="0.15" textLength="69" lengthAdjust="spacingAndGlyphs">Root-to-Tip Divergence</text>
<text x="517.60" y="185.40" text-anchor="middle" font-size="11.5" font-weight="bold" fill="#3a4862" stroke="#3a4862" stroke-width="0.3" textLength="52.54" lengthAdjust="spacingAndGlyphs">G: B Early</text>
<text x="390.00" y="211.20" font-size="6.3" fill="#34373d" stroke="#34373d" stroke-width="0.12">R<tspan font-size="4" dy="-2.1">2</tspan><tspan dy="2.1"> = 0.67</tspan></text>
<line x1="392.2" y1="298.3" x2="675.4" y2="207.2" stroke="#4170c0" stroke-width="0.8"/>
<circle cx="392.24" cy="282.99" r="2.05" fill="#3a67c4"/>
<circle cx="421.58" cy="296.13" r="2.05" fill="#3a67c4"/>
<circle cx="435.89" cy="241.82" r="2.05" fill="#3a67c4"/>
<circle cx="433.85" cy="281.09" r="2.05" fill="#3a67c4"/>
<circle cx="435.89" cy="281.09" r="2.05" fill="#3a67c4"/>
<circle cx="445.23" cy="280.07" r="2.05" fill="#3a67c4"/>
<circle cx="427.42" cy="288.69" r="2.05" fill="#3a67c4"/>
<circle cx="429.61" cy="288.69" r="2.05" fill="#3a67c4"/>
<circle cx="431.8" cy="288.69" r="2.05" fill="#3a67c4"/>
<circle cx="433.85" cy="288.69" r="2.05" fill="#3a67c4"/>
<circle cx="435.31" cy="289.12" r="2.05" fill="#3a67c4"/>
<circle cx="436.18" cy="291.02" r="2.05" fill="#3a67c4"/>
<circle cx="445.23" cy="291.02" r="2.05" fill="#3a67c4"/>
<circle cx="432.82" cy="303.43" r="2.05" fill="#3a67c4"/>
<circle cx="435.01" cy="303.43" r="2.05" fill="#3a67c4"/>
<circle cx="468.15" cy="267.23" r="2.05" fill="#3a67c4"/>
<circle cx="469.03" cy="272.77" r="2.05" fill="#3a67c4"/>
<circle cx="487.66" cy="274.71" r="2.05" fill="#3a67c4"/>
<circle cx="496.09" cy="249.11" r="2.05" fill="#3a67c4"/>
<circle cx="497.63" cy="249.11" r="2.05" fill="#3a67c4"/>
<circle cx="499.01" cy="288.5" r="2.05" fill="#3a67c4"/>
<circle cx="504.99" cy="235.62" r="2.05" fill="#3a67c4"/>
<circle cx="509.12" cy="248.5" r="2.05" fill="#3a67c4"/>
<circle cx="513.26" cy="288.35" r="2.05" fill="#3a67c4"/>
<circle cx="529.82" cy="250.18" r="2.05" fill="#3a67c4"/>
<circle cx="532.42" cy="251.72" r="2.05" fill="#3a67c4"/>
<circle cx="533.96" cy="259.07" r="2.05" fill="#3a67c4"/>
<circle cx="529.97" cy="273.64" r="2.05" fill="#3a67c4"/>
<circle cx="549.44" cy="256.62" r="2.05" fill="#3a67c4"/>
<circle cx="592.45" cy="206.25" r="2.05" fill="#3a67c4"/>
<circle cx="614.94" cy="207.46" r="2.05" fill="#3a67c4"/>
<circle cx="614.94" cy="225.24" r="2.05" fill="#3a67c4"/>
<circle cx="614.94" cy="257.77" r="2.05" fill="#3a67c4"/>
<circle cx="675.43" cy="207.16" r="2.05" fill="#3a67c4"/>
<line x1="63.30" y1="373.60" x2="63.30" y2="493.40" stroke="#e3e6eb" stroke-width="0.8"/>
<line x1="101.00" y1="373.60" x2="101.00" y2="493.40" stroke="#e3e6eb" stroke-width="0.8"/>
<line x1="138.70" y1="373.60" x2="138.70" y2="493.40" stroke="#e3e6eb" stroke-width="0.8"/>
<line x1="176.40" y1="373.60" x2="176.40" y2="493.40" stroke="#e3e6eb" stroke-width="0.8"/>
<line x1="214.10" y1="373.60" x2="214.10" y2="493.40" stroke="#e3e6eb" stroke-width="0.8"/>
<line x1="251.80" y1="373.60" x2="251.80" y2="493.40" stroke="#e3e6eb" stroke-width="0.8"/>
<line x1="289.50" y1="373.60" x2="289.50" y2="493.40" stroke="#e3e6eb" stroke-width="0.8"/>
<line x1="327.20" y1="373.60" x2="327.20" y2="493.40" stroke="#e3e6eb" stroke-width="0.8"/>
<line x1="25.60" y1="469.44" x2="327.20" y2="469.44" stroke="#e3e6eb" stroke-width="0.8"/>
<line x1="25.60" y1="445.48" x2="327.20" y2="445.48" stroke="#e3e6eb" stroke-width="0.8"/>
<line x1="25.60" y1="421.52" x2="327.20" y2="421.52" stroke="#e3e6eb" stroke-width="0.8"/>
<line x1="25.60" y1="397.56" x2="327.20" y2="397.56" stroke="#e3e6eb" stroke-width="0.8"/>
<line x1="25.60" y1="373.60" x2="327.20" y2="373.60" stroke="#e3e6eb" stroke-width="0.8"/>
<line x1="25.60" y1="373.60" x2="25.60" y2="493.40" stroke="#cfd4dc" stroke-width="1"/>
<line x1="25.60" y1="493.40" x2="327.20" y2="493.40" stroke="#cfd4dc" stroke-width="1"/>
<text x="20.00" y="495.15" text-anchor="end" font-size="6.7" fill="#3e4552" stroke="#3e4552" stroke-width="0.12" textLength="3.41" lengthAdjust="spacingAndGlyphs">0</text>
<text x="20.00" y="471.19" text-anchor="end" font-size="6.7" fill="#3e4552" stroke="#3e4552" stroke-width="0.12" textLength="11.93" lengthAdjust="spacingAndGlyphs">0.01</text>
<text x="20.00" y="447.23" text-anchor="end" font-size="6.7" fill="#3e4552" stroke="#3e4552" stroke-width="0.12" textLength="11.93" lengthAdjust="spacingAndGlyphs">0.02</text>
<text x="20.00" y="423.27" text-anchor="end" font-size="6.7" fill="#3e4552" stroke="#3e4552" stroke-width="0.12" textLength="11.93" lengthAdjust="spacingAndGlyphs">0.03</text>
<text x="20.00" y="399.31" text-anchor="end" font-size="6.7" fill="#3e4552" stroke="#3e4552" stroke-width="0.12" textLength="11.93" lengthAdjust="spacingAndGlyphs">0.04</text>
<text x="20.00" y="375.35" text-anchor="end" font-size="6.7" fill="#3e4552" stroke="#3e4552" stroke-width="0.12" textLength="11.93" lengthAdjust="spacingAndGlyphs">0.05</text>
<text x="25.60" y="502.75" text-anchor="middle" font-size="6.6" fill="#3e4552" stroke="#3e4552" stroke-width="0.12">1980</text>
<text x="63.30" y="502.75" text-anchor="middle" font-size="6.6" fill="#3e4552" stroke="#3e4552" stroke-width="0.12">1985</text>
<text x="101.00" y="502.75" text-anchor="middle" font-size="6.6" fill="#3e4552" stroke="#3e4552" stroke-width="0.12">1990</text>
<text x="138.70" y="502.75" text-anchor="middle" font-size="6.6" fill="#3e4552" stroke="#3e4552" stroke-width="0.12">1995</text>
<text x="176.40" y="502.75" text-anchor="middle" font-size="6.6" fill="#3e4552" stroke="#3e4552" stroke-width="0.12">2000</text>
<text x="214.10" y="502.75" text-anchor="middle" font-size="6.6" fill="#3e4552" stroke="#3e4552" stroke-width="0.12">2005</text>
<text x="251.80" y="502.75" text-anchor="middle" font-size="6.6" fill="#3e4552" stroke="#3e4552" stroke-width="0.12">2010</text>
<text x="289.50" y="502.75" text-anchor="middle" font-size="6.6" fill="#3e4552" stroke="#3e4552" stroke-width="0.12">2015</text>
<text x="327.20" y="502.75" text-anchor="middle" font-size="6.6" fill="#3e4552" stroke="#3e4552" stroke-width="0.12">2020</text>
<text x="176.40" y="512.30" text-anchor="middle" font-size="6.8" font-weight="bold" fill="#34435a" stroke="#34435a" stroke-width="0.15" textLength="69.4" lengthAdjust="spacingAndGlyphs">Sample Collection Date</text>
<text transform="translate(4.70,433.50) rotate(-90)" text-anchor="middle" font-size="6.9" font-weight="bold" fill="#34435a" stroke="#34435a" stroke-width="0.15" textLength="69" lengthAdjust="spacingAndGlyphs">Root-to-Tip Divergence</text>
<text x="165.10" y="362.80" text-anchor="middle" font-size="11.5" font-weight="bold" fill="#3a4862" stroke="#3a4862" stroke-width="0.3" textLength="27.17" lengthAdjust="spacingAndGlyphs">F: B2</text>
<text x="32.00" y="388.20" font-size="6.3" fill="#34373d" stroke="#34373d" stroke-width="0.12">R<tspan font-size="4" dy="-2.1">2</tspan><tspan dy="2.1"> = 0.44</tspan></text>
<line x1="55.1" y1="492.2" x2="304.6" y2="445.0" stroke="#4170c0" stroke-width="0.8"/>
<circle cx="55.09" cy="470.85" r="2.05" fill="#3a67c4"/>
<circle cx="106.42" cy="492.55" r="2.05" fill="#3a67c4"/>
<circle cx="109.49" cy="470.8" r="2.05" fill="#3a67c4"/>
<circle cx="110.22" cy="470.8" r="2.05" fill="#3a67c4"/>
<circle cx="109.05" cy="474.74" r="2.05" fill="#3a67c4"/>
<circle cx="110.66" cy="478.39" r="2.05" fill="#3a67c4"/>
<circle cx="109.49" cy="485.69" r="2.05" fill="#3a67c4"/>
<circle cx="121.9" cy="478.39" r="2.05" fill="#3a67c4"/>
<circle cx="121.61" cy="489.05" r="2.05" fill="#3a67c4"/>
<circle cx="124.82" cy="485.69" r="2.05" fill="#3a67c4"/>
<circle cx="126.72" cy="485.69" r="2.05" fill="#3a67c4"/>
<circle cx="130.66" cy="482.04" r="2.05" fill="#3a67c4"/>
<circle cx="132.85" cy="489.05" r="2.05" fill="#3a67c4"/>
<circle cx="138.98" cy="467.15" r="2.05" fill="#3a67c4"/>
<circle cx="139.12" cy="476.64" r="2.05" fill="#3a67c4"/>
<circle cx="144.53" cy="471.09" r="2.05" fill="#3a67c4"/>
<circle cx="146.72" cy="471.09" r="2.05" fill="#3a67c4"/>
<circle cx="148.91" cy="471.09" r="2.05" fill="#3a67c4"/>
<circle cx="145.26" cy="473.28" r="2.05" fill="#3a67c4"/>
<circle cx="147.45" cy="474.31" r="2.05" fill="#3a67c4"/>
<circle cx="146.42" cy="475.18" r="2.05" fill="#3a67c4"/>
<circle cx="154.01" cy="471.09" r="2.05" fill="#3a67c4"/>
<circle cx="154.01" cy="480.15" r="2.05" fill="#3a67c4"/>
<circle cx="163.21" cy="478.1" r="2.05" fill="#3a67c4"/>
<circle cx="170.07" cy="476.64" r="2.05" fill="#3a67c4"/>
<circle cx="170.07" cy="480.15" r="2.05" fill="#3a67c4"/>
<circle cx="183.94" cy="474.45" r="2.05" fill="#3a67c4"/>
<circle cx="183.94" cy="480.15" r="2.05" fill="#3a67c4"/>
<circle cx="191.24" cy="469.64" r="2.05" fill="#3a67c4"/>
<circle cx="192.7" cy="469.64" r="2.05" fill="#3a67c4"/>
<circle cx="199.56" cy="471.09" r="2.05" fill="#3a67c4"/>
<circle cx="201.51" cy="472.96" r="2.05" fill="#3a67c4"/>
<circle cx="201.51" cy="465.58" r="2.05" fill="#3a67c4"/>
<circle cx="202.81" cy="480.02" r="2.05" fill="#3a67c4"/>
<circle cx="207.48" cy="472.96" r="2.05" fill="#3a67c4"/>
<circle cx="209.33" cy="454.73" r="2.05" fill="#3a67c4"/>
<circle cx="209.98" cy="469.38" r="2.05" fill="#3a67c4"/>
<circle cx="211.5" cy="476.65" r="2.05" fill="#3a67c4"/>
<circle cx="214.53" cy="469.38" r="2.05" fill="#3a67c4"/>
<circle cx="216.16" cy="465.8" r="2.05" fill="#3a67c4"/>
<circle cx="217.79" cy="465.8" r="2.05" fill="#3a67c4"/>
<circle cx="228.86" cy="447.35" r="2.05" fill="#3a67c4"/>
<circle cx="228.86" cy="452.34" r="2.05" fill="#3a67c4"/>
<circle cx="229.51" cy="462.11" r="2.05" fill="#3a67c4"/>
<circle cx="231.9" cy="458.2" r="2.05" fill="#3a67c4"/>
<circle cx="231.9" cy="464.71" r="2.05" fill="#3a67c4"/>
<circle cx="234.94" cy="446.37" r="2.05" fill="#3a67c4"/>
<circle cx="239.5" cy="443.12" r="2.05" fill="#3a67c4"/>
<circle cx="238.95" cy="447.13" r="2.05" fill="#3a67c4"/>
<circle cx="236.24" cy="450.39" r="2.05" fill="#3a67c4"/>
<circle cx="237.87" cy="451.47" r="2.05" fill="#3a67c4"/>
<circle cx="239.5" cy="452.56" r="2.05" fill="#3a67c4"/>
<circle cx="235.7" cy="455.81" r="2.05" fill="#3a67c4"/>
<circle cx="237.54" cy="456.36" r="2.05" fill="#3a67c4"/>
<circle cx="239.5" cy="455.81" r="2.05" fill="#3a67c4"/>
<circle cx="241.67" cy="454.73" r="2.05" fill="#3a67c4"/>
<circle cx="243.29" cy="455.81" r="2.05" fill="#3a67c4"/>
<circle cx="235.16" cy="459.61" r="2.05" fill="#3a67c4"/>
<circle cx="236.78" cy="460.16" r="2.05" fill="#3a67c4"/>
<circle cx="238.95" cy="460.16" r="2.05" fill="#3a67c4"/>
<circle cx="235.7" cy="463.41" r="2.05" fill="#3a67c4"/>
<circle cx="237.87" cy="462.87" r="2.05" fill="#3a67c4"/>
<circle cx="236.78" cy="465.58" r="2.05" fill="#3a67c4"/>
<circle cx="236.24" cy="467.75" r="2.05" fill="#3a67c4"/>
<circle cx="238.41" cy="467.21" r="2.05" fill="#3a67c4"/>
<circle cx="236.78" cy="471.01" r="2.05" fill="#3a67c4"/>
<circle cx="238.95" cy="471.01" r="2.05" fill="#3a67c4"/>
<circle cx="243.29" cy="458.53" r="2.05" fill="#3a67c4"/>
<circle cx="243.84" cy="466.67" r="2.05" fill="#3a67c4"/>
<circle cx="245.47" cy="467.75" r="2.05" fill="#3a67c4"/>
<circle cx="244.92" cy="470.47" r="2.05" fill="#3a67c4"/>
<circle cx="247.09" cy="469.92" r="2.05" fill="#3a67c4"/>
<circle cx="243.51" cy="474.81" r="2.05" fill="#3a67c4"/>
<circle cx="247.09" cy="434.11" r="2.05" fill="#3a67c4"/>
<circle cx="247.09" cy="447.35" r="2.05" fill="#3a67c4"/>
<circle cx="247.09" cy="451.47" r="2.05" fill="#3a67c4"/>
<circle cx="246.01" cy="455.81" r="2.05" fill="#3a67c4"/>
<circle cx="248.18" cy="455.81" r="2.05" fill="#3a67c4"/>
<circle cx="251.43" cy="445.83" r="2.05" fill="#3a67c4"/>
<circle cx="254.15" cy="446.59" r="2.05" fill="#3a67c4"/>
<circle cx="251.98" cy="449.3" r="2.05" fill="#3a67c4"/>
<circle cx="254.15" cy="449.84" r="2.05" fill="#3a67c4"/>
<circle cx="257.95" cy="449.3" r="2.05" fill="#3a67c4"/>
<circle cx="250.35" cy="456.36" r="2.05" fill="#3a67c4"/>
<circle cx="252.52" cy="456.36" r="2.05" fill="#3a67c4"/>
<circle cx="254.69" cy="455.81" r="2.05" fill="#3a67c4"/>
<circle cx="251.43" cy="460.16" r="2.05" fill="#3a67c4"/>
<circle cx="254.15" cy="461.02" r="2.05" fill="#3a67c4"/>
<circle cx="251.43" cy="463.95" r="2.05" fill="#3a67c4"/>
<circle cx="250.57" cy="467.43" r="2.05" fill="#3a67c4"/>
<circle cx="254.15" cy="438.67" r="2.05" fill="#3a67c4"/>
<circle cx="255.02" cy="474.59" r="2.05" fill="#3a67c4"/>
<circle cx="259.03" cy="456.9" r="2.05" fill="#3a67c4"/>
<circle cx="279.46" cy="379.11" r="2.05" fill="#3a67c4"/>
<circle cx="265.91" cy="402.45" r="2.05" fill="#3a67c4"/>
<circle cx="265.35" cy="415.43" r="2.05" fill="#3a67c4"/>
<circle cx="264.78" cy="419.57" r="2.05" fill="#3a67c4"/>
<circle cx="265.01" cy="434.31" r="2.05" fill="#3a67c4"/>
<circle cx="269.61" cy="434.82" r="2.05" fill="#3a67c4"/>
<circle cx="265.53" cy="438.39" r="2.05" fill="#3a67c4"/>
<circle cx="275.44" cy="432.47" r="2.05" fill="#3a67c4"/>
<circle cx="280.55" cy="436.35" r="2.05" fill="#3a67c4"/>
<circle cx="270.02" cy="441.77" r="2.05" fill="#3a67c4"/>
<circle cx="266.24" cy="445.55" r="2.05" fill="#3a67c4"/>
<circle cx="273.39" cy="445.55" r="2.05" fill="#3a67c4"/>
<circle cx="280.04" cy="442.48" r="2.05" fill="#3a67c4"/>
<circle cx="282.59" cy="441.97" r="2.05" fill="#3a67c4"/>
<circle cx="284.64" cy="439.42" r="2.05" fill="#3a67c4"/>
<circle cx="286.68" cy="441.97" r="2.05" fill="#3a67c4"/>
<circle cx="279.01" cy="445.55" r="2.05" fill="#3a67c4"/>
<circle cx="281.57" cy="445.04" r="2.05" fill="#3a67c4"/>
<circle cx="284.12" cy="445.04" r="2.05" fill="#3a67c4"/>
<circle cx="286.68" cy="445.04" r="2.05" fill="#3a67c4"/>
<circle cx="288.21" cy="446.06" r="2.05" fill="#3a67c4"/>
<circle cx="270.33" cy="449.12" r="2.05" fill="#3a67c4"/>
<circle cx="272.88" cy="449.64" r="2.05" fill="#3a67c4"/>
<circle cx="275.44" cy="449.12" r="2.05" fill="#3a67c4"/>
<circle cx="277.99" cy="448.61" r="2.05" fill="#3a67c4"/>
<circle cx="280.55" cy="449.12" r="2.05" fill="#3a67c4"/>
<circle cx="283.1" cy="449.12" r="2.05" fill="#3a67c4"/>
<circle cx="285.66" cy="449.12" r="2.05" fill="#3a67c4"/>
<circle cx="287.7" cy="449.64" r="2.05" fill="#3a67c4"/>
<circle cx="271.35" cy="452.7" r="2.05" fill="#3a67c4"/>
<circle cx="273.91" cy="452.7" r="2.05" fill="#3a67c4"/>
<circle cx="276.46" cy="452.7" r="2.05" fill="#3a67c4"/>
<circle cx="279.01" cy="452.7" r="2.05" fill="#3a67c4"/>
<circle cx="281.57" cy="452.7" r="2.05" fill="#3a67c4"/>
<circle cx="284.12" cy="452.7" r="2.05" fill="#3a67c4"/>
<circle cx="286.68" cy="452.7" r="2.05" fill="#3a67c4"/>
<circle cx="288.21" cy="452.91" r="2.05" fill="#3a67c4"/>
<circle cx="261.64" cy="456.58" r="2.05" fill="#3a67c4"/>
<circle cx="264.2" cy="456.58" r="2.05" fill="#3a67c4"/>
<circle cx="266.75" cy="456.58" r="2.05" fill="#3a67c4"/>
<circle cx="269.31" cy="456.58" r="2.05" fill="#3a67c4"/>
<circle cx="271.86" cy="456.28" r="2.05" fill="#3a67c4"/>
<circle cx="274.42" cy="456.28" r="2.05" fill="#3a67c4"/>
<circle cx="276.97" cy="456.28" r="2.05" fill="#3a67c4"/>
<circle cx="279.53" cy="456.28" r="2.05" fill="#3a67c4"/>
<circle cx="282.08" cy="456.28" r="2.05" fill="#3a67c4"/>
<circle cx="284.64" cy="456.28" r="2.05" fill="#3a67c4"/>
<circle cx="287.19" cy="456.28" r="2.05" fill="#3a67c4"/>
<circle cx="262.66" cy="459.85" r="2.05" fill="#3a67c4"/>
<circle cx="265.22" cy="459.85" r="2.05" fill="#3a67c4"/>
<circle cx="267.77" cy="459.85" r="2.05" fill="#3a67c4"/>
<circle cx="270.33" cy="459.85" r="2.05" fill="#3a67c4"/>
<circle cx="272.88" cy="459.85" r="2.05" fill="#3a67c4"/>
<circle cx="277.48" cy="459.85" r="2.05" fill="#3a67c4"/>
<circle cx="280.04" cy="459.85" r="2.05" fill="#3a67c4"/>
<circle cx="282.59" cy="459.85" r="2.05" fill="#3a67c4"/>
<circle cx="285.15" cy="459.85" r="2.05" fill="#3a67c4"/>
<circle cx="287.19" cy="460.36" r="2.05" fill="#3a67c4"/>
<circle cx="263.69" cy="463.74" r="2.05" fill="#3a67c4"/>
<circle cx="269.0" cy="465.47" r="2.05" fill="#3a67c4"/>
<circle cx="286.68" cy="463.74" r="2.05" fill="#3a67c4"/>
<circle cx="285.35" cy="467.52" r="2.05" fill="#3a67c4"/>
<circle cx="291.99" cy="447.8" r="2.05" fill="#3a67c4"/>
<circle cx="291.99" cy="456.58" r="2.05" fill="#3a67c4"/>
<circle cx="291.79" cy="439.62" r="2.05" fill="#3a67c4"/>
<circle cx="293.63" cy="441.66" r="2.05" fill="#3a67c4"/>
<circle cx="295.88" cy="427.36" r="2.05" fill="#3a67c4"/>
<circle cx="300.68" cy="424.09" r="2.05" fill="#3a67c4"/>
<circle cx="295.88" cy="431.04" r="2.05" fill="#3a67c4"/>
<circle cx="297.92" cy="431.04" r="2.05" fill="#3a67c4"/>
<circle cx="300.47" cy="431.04" r="2.05" fill="#3a67c4"/>
<circle cx="299.96" cy="441.77" r="2.05" fill="#3a67c4"/>
<circle cx="298.43" cy="445.75" r="2.05" fill="#3a67c4"/>
<circle cx="303.03" cy="445.75" r="2.05" fill="#3a67c4"/>
<circle cx="302.01" cy="449.64" r="2.05" fill="#3a67c4"/>
<circle cx="296.9" cy="452.91" r="2.05" fill="#3a67c4"/>
<circle cx="298.94" cy="452.91" r="2.05" fill="#3a67c4"/>
<circle cx="300.99" cy="452.91" r="2.05" fill="#3a67c4"/>
<circle cx="303.03" cy="452.91" r="2.05" fill="#3a67c4"/>
<line x1="408.40" y1="374.00" x2="408.40" y2="493.20" stroke="#e3e6eb" stroke-width="0.8"/>
<line x1="435.40" y1="374.00" x2="435.40" y2="493.20" stroke="#e3e6eb" stroke-width="0.8"/>
<line x1="462.40" y1="374.00" x2="462.40" y2="493.20" stroke="#e3e6eb" stroke-width="0.8"/>
<line x1="489.40" y1="374.00" x2="489.40" y2="493.20" stroke="#e3e6eb" stroke-width="0.8"/>
<line x1="516.40" y1="374.00" x2="516.40" y2="493.20" stroke="#e3e6eb" stroke-width="0.8"/>
<line x1="543.40" y1="374.00" x2="543.40" y2="493.20" stroke="#e3e6eb" stroke-width="0.8"/>
<line x1="570.40" y1="374.00" x2="570.40" y2="493.20" stroke="#e3e6eb" stroke-width="0.8"/>
<line x1="597.40" y1="374.00" x2="597.40" y2="493.20" stroke="#e3e6eb" stroke-width="0.8"/>
<line x1="624.40" y1="374.00" x2="624.40" y2="493.20" stroke="#e3e6eb" stroke-width="0.8"/>
<line x1="651.40" y1="374.00" x2="651.40" y2="493.20" stroke="#e3e6eb" stroke-width="0.8"/>
<line x1="678.40" y1="374.00" x2="678.40" y2="493.20" stroke="#e3e6eb" stroke-width="0.8"/>
<line x1="381.40" y1="476.17" x2="678.40" y2="476.17" stroke="#e3e6eb" stroke-width="0.8"/>
<line x1="381.40" y1="459.14" x2="678.40" y2="459.14" stroke="#e3e6eb" stroke-width="0.8"/>
<line x1="381.40" y1="442.11" x2="678.40" y2="442.11" stroke="#e3e6eb" stroke-width="0.8"/>
<line x1="381.40" y1="425.09" x2="678.40" y2="425.09" stroke="#e3e6eb" stroke-width="0.8"/>
<line x1="381.40" y1="408.06" x2="678.40" y2="408.06" stroke="#e3e6eb" stroke-width="0.8"/>
<line x1="381.40" y1="391.03" x2="678.40" y2="391.03" stroke="#e3e6eb" stroke-width="0.8"/>
<line x1="381.40" y1="374.00" x2="678.40" y2="374.00" stroke="#e3e6eb" stroke-width="0.8"/>
<line x1="381.40" y1="374.00" x2="381.40" y2="493.20" stroke="#cfd4dc" stroke-width="1"/>
<line x1="381.40" y1="493.20" x2="678.40" y2="493.20" stroke="#cfd4dc" stroke-width="1"/>
<text x="375.80" y="494.95" text-anchor="end" font-size="6.7" fill="#3e4552" stroke="#3e4552" stroke-width="0.12" textLength="11.93" lengthAdjust="spacingAndGlyphs">0.01</text>
<text x="375.80" y="477.92" text-anchor="end" font-size="6.7" fill="#3e4552" stroke="#3e4552" stroke-width="0.12" textLength="15.34" lengthAdjust="spacingAndGlyphs">0.015</text>
<text x="375.80" y="460.89" text-anchor="end" font-size="6.7" fill="#3e4552" stroke="#3e4552" stroke-width="0.12" textLength="11.93" lengthAdjust="spacingAndGlyphs">0.02</text>
<text x="375.80" y="443.86" text-anchor="end" font-size="6.7" fill="#3e4552" stroke="#3e4552" stroke-width="0.12" textLength="15.34" lengthAdjust="spacingAndGlyphs">0.025</text>
<text x="375.80" y="426.84" text-anchor="end" font-size="6.7" fill="#3e4552" stroke="#3e4552" stroke-width="0.12" textLength="11.93" lengthAdjust="spacingAndGlyphs">0.03</text>
<text x="375.80" y="409.81" text-anchor="end" font-size="6.7" fill="#3e4552" stroke="#3e4552" stroke-width="0.12" textLength="15.34" lengthAdjust="spacingAndGlyphs">0.035</text>
<text x="375.80" y="392.78" text-anchor="end" font-size="6.7" fill="#3e4552" stroke="#3e4552" stroke-width="0.12" textLength="11.93" lengthAdjust="spacingAndGlyphs">0.04</text>
<text x="375.80" y="375.75" text-anchor="end" font-size="6.7" fill="#3e4552" stroke="#3e4552" stroke-width="0.12" textLength="15.34" lengthAdjust="spacingAndGlyphs">0.045</text>
<text x="381.40" y="502.55" text-anchor="middle" font-size="6.6" fill="#3e4552" stroke="#3e4552" stroke-width="0.12">2008</text>
<text x="408.40" y="502.55" text-anchor="middle" font-size="6.6" fill="#3e4552" stroke="#3e4552" stroke-width="0.12">2009</text>
<text x="435.40" y="502.55" text-anchor="middle" font-size="6.6" fill="#3e4552" stroke="#3e4552" stroke-width="0.12">2010</text>
<text x="462.40" y="502.55" text-anchor="middle" font-size="6.6" fill="#3e4552" stroke="#3e4552" stroke-width="0.12">2011</text>
<text x="489.40" y="502.55" text-anchor="middle" font-size="6.6" fill="#3e4552" stroke="#3e4552" stroke-width="0.12">2012</text>
<text x="516.40" y="502.55" text-anchor="middle" font-size="6.6" fill="#3e4552" stroke="#3e4552" stroke-width="0.12">2013</text>
<text x="543.40" y="502.55" text-anchor="middle" font-size="6.6" fill="#3e4552" stroke="#3e4552" stroke-width="0.12">2014</text>
<text x="570.40" y="502.55" text-anchor="middle" font-size="6.6" fill="#3e4552" stroke="#3e4552" stroke-width="0.12">2015</text>
<text x="597.40" y="502.55" text-anchor="middle" font-size="6.6" fill="#3e4552" stroke="#3e4552" stroke-width="0.12">2016</text>
<text x="624.40" y="502.55" text-anchor="middle" font-size="6.6" fill="#3e4552" stroke="#3e4552" stroke-width="0.12">2017</text>
<text x="651.40" y="502.55" text-anchor="middle" font-size="6.6" fill="#3e4552" stroke="#3e4552" stroke-width="0.12">2018</text>
<text x="678.40" y="502.55" text-anchor="middle" font-size="6.6" fill="#3e4552" stroke="#3e4552" stroke-width="0.12">2019</text>
<text x="529.90" y="512.10" text-anchor="middle" font-size="6.8" font-weight="bold" fill="#34435a" stroke="#34435a" stroke-width="0.15" textLength="69.4" lengthAdjust="spacingAndGlyphs">Sample Collection Date</text>
<text transform="translate(356.60,433.60) rotate(-90)" text-anchor="middle" font-size="6.9" font-weight="bold" fill="#34435a" stroke="#34435a" stroke-width="0.15" textLength="69" lengthAdjust="spacingAndGlyphs">Root-to-Tip Divergence</text>
<text x="517.20" y="362.80" text-anchor="middle" font-size="11.5" font-weight="bold" fill="#3a4862" stroke="#3a4862" stroke-width="0.3" textLength="28.98" lengthAdjust="spacingAndGlyphs">G: B1</text>
<text x="415.20" y="385.60" font-size="6.3" fill="#34373d" stroke="#34373d" stroke-width="0.12">R<tspan font-size="4" dy="-2.1">2</tspan><tspan dy="2.1"> = 0.52</tspan></text>
<line x1="409.0" y1="479.3" x2="665.2" y2="392.6" stroke="#4170c0" stroke-width="0.8"/>
<circle cx="409.49" cy="464.89" r="2.05" fill="#3a67c4"/>
<circle cx="413.71" cy="470.35" r="2.05" fill="#3a67c4"/>
<circle cx="416.19" cy="469.11" r="2.05" fill="#3a67c4"/>
<circle cx="437.96" cy="476.64" r="2.05" fill="#3a67c4"/>
<circle cx="463.94" cy="469.64" r="2.05" fill="#3a67c4"/>
<circle cx="485.99" cy="447.88" r="2.05" fill="#3a67c4"/>
<circle cx="485.26" cy="464.23" r="2.05" fill="#3a67c4"/>
<circle cx="491.09" cy="469.64" r="2.05" fill="#3a67c4"/>
<circle cx="494.45" cy="436.93" r="2.05" fill="#3a67c4"/>
<circle cx="494.45" cy="440.88" r="2.05" fill="#3a67c4"/>
<circle cx="497.08" cy="442.04" r="2.05" fill="#3a67c4"/>
<circle cx="494.74" cy="446.72" r="2.05" fill="#3a67c4"/>
<circle cx="496.35" cy="446.72" r="2.05" fill="#3a67c4"/>
<circle cx="497.37" cy="452.55" r="2.05" fill="#3a67c4"/>
<circle cx="495.18" cy="464.96" r="2.05" fill="#3a67c4"/>
<circle cx="499.12" cy="463.94" r="2.05" fill="#3a67c4"/>
<circle cx="495.47" cy="480.44" r="2.05" fill="#3a67c4"/>
<circle cx="506.86" cy="426.57" r="2.05" fill="#3a67c4"/>
<circle cx="507.88" cy="429.93" r="2.05" fill="#3a67c4"/>
<circle cx="509.78" cy="448.47" r="2.05" fill="#3a67c4"/>
<circle cx="510.07" cy="453.14" r="2.05" fill="#3a67c4"/>
<circle cx="514.6" cy="443.07" r="2.05" fill="#3a67c4"/>
<circle cx="519.27" cy="414.31" r="2.05" fill="#3a67c4"/>
<circle cx="521.82" cy="424.41" r="2.05" fill="#3a67c4"/>
<circle cx="529.97" cy="424.41" r="2.05" fill="#3a67c4"/>
<circle cx="523.14" cy="447.4" r="2.05" fill="#3a67c4"/>
<circle cx="524.85" cy="453.84" r="2.05" fill="#3a67c4"/>
<circle cx="529.05" cy="464.74" r="2.05" fill="#3a67c4"/>
<circle cx="538.64" cy="404.44" r="2.05" fill="#3a67c4"/>
<circle cx="545.21" cy="400.63" r="2.05" fill="#3a67c4"/>
<circle cx="543.9" cy="407.72" r="2.05" fill="#3a67c4"/>
<circle cx="540.35" cy="420.86" r="2.05" fill="#3a67c4"/>
<circle cx="538.64" cy="431.37" r="2.05" fill="#3a67c4"/>
<circle cx="540.88" cy="442.41" r="2.05" fill="#3a67c4"/>
<circle cx="542.19" cy="448.06" r="2.05" fill="#3a67c4"/>
<circle cx="538.91" cy="453.31" r="2.05" fill="#3a67c4"/>
<circle cx="538.91" cy="464.74" r="2.05" fill="#3a67c4"/>
<circle cx="549.15" cy="412.72" r="2.05" fill="#3a67c4"/>
<circle cx="553.75" cy="410.09" r="2.05" fill="#3a67c4"/>
<circle cx="554.41" cy="419.15" r="2.05" fill="#3a67c4"/>
<circle cx="557.04" cy="424.28" r="2.05" fill="#3a67c4"/>
<circle cx="563.21" cy="433.34" r="2.05" fill="#3a67c4"/>
<circle cx="567.81" cy="428.09" r="2.05" fill="#3a67c4"/>
<circle cx="568.2" cy="399.31" r="2.05" fill="#3a67c4"/>
<circle cx="569.78" cy="396.42" r="2.05" fill="#3a67c4"/>
<circle cx="569.12" cy="394.45" r="2.05" fill="#3a67c4"/>
<circle cx="574.91" cy="432.55" r="2.05" fill="#3a67c4"/>
<circle cx="572.8" cy="457.78" r="2.05" fill="#3a67c4"/>
<circle cx="584.1" cy="393.66" r="2.05" fill="#3a67c4"/>
<circle cx="599.34" cy="378.41" r="2.05" fill="#3a67c4"/>
<circle cx="617.34" cy="381.56" r="2.05" fill="#3a67c4"/>
<circle cx="617.07" cy="387.74" r="2.05" fill="#3a67c4"/>
<circle cx="626.53" cy="387.74" r="2.05" fill="#3a67c4"/>
<circle cx="630.74" cy="393.26" r="2.05" fill="#3a67c4"/>
<circle cx="606.17" cy="404.95" r="2.05" fill="#3a67c4"/>
<circle cx="620.23" cy="410.47" r="2.05" fill="#3a67c4"/>
<circle cx="629.82" cy="410.47" r="2.05" fill="#3a67c4"/>
<circle cx="633.36" cy="410.73" r="2.05" fill="#3a67c4"/>
<circle cx="632.71" cy="415.99" r="2.05" fill="#3a67c4"/>
<circle cx="638.09" cy="404.95" r="2.05" fill="#3a67c4"/>
<circle cx="608.4" cy="421.24" r="2.05" fill="#3a67c4"/>
<circle cx="611.29" cy="419.93" r="2.05" fill="#3a67c4"/>
<circle cx="603.67" cy="430.7" r="2.05" fill="#3a67c4"/>
<circle cx="604.46" cy="443.84" r="2.05" fill="#3a67c4"/>
<circle cx="626.27" cy="432.67" r="2.05" fill="#3a67c4"/>
<circle cx="665.16" cy="398.91" r="2.05" fill="#3a67c4"/>
<circle cx="599.34" cy="415.99" r="2.05" fill="#3a67c4"/>
<line x1="415.70" y1="551.30" x2="415.70" y2="670.90" stroke="#e3e6eb" stroke-width="0.8"/>
<line x1="453.20" y1="551.30" x2="453.20" y2="670.90" stroke="#e3e6eb" stroke-width="0.8"/>
<line x1="490.70" y1="551.30" x2="490.70" y2="670.90" stroke="#e3e6eb" stroke-width="0.8"/>
<line x1="528.20" y1="551.30" x2="528.20" y2="670.90" stroke="#e3e6eb" stroke-width="0.8"/>
<line x1="565.70" y1="551.30" x2="565.70" y2="670.90" stroke="#e3e6eb" stroke-width="0.8"/>
<line x1="603.20" y1="551.30" x2="603.20" y2="670.90" stroke="#e3e6eb" stroke-width="0.8"/>
<line x1="640.70" y1="551.30" x2="640.70" y2="670.90" stroke="#e3e6eb" stroke-width="0.8"/>
<line x1="678.20" y1="551.30" x2="678.20" y2="670.90" stroke="#e3e6eb" stroke-width="0.8"/>
<line x1="378.20" y1="655.95" x2="678.20" y2="655.95" stroke="#e3e6eb" stroke-width="0.8"/>
<line x1="378.20" y1="641.00" x2="678.20" y2="641.00" stroke="#e3e6eb" stroke-width="0.8"/>
<line x1="378.20" y1="626.05" x2="678.20" y2="626.05" stroke="#e3e6eb" stroke-width="0.8"/>
<line x1="378.20" y1="611.10" x2="678.20" y2="611.10" stroke="#e3e6eb" stroke-width="0.8"/>
<line x1="378.20" y1="596.15" x2="678.20" y2="596.15" stroke="#e3e6eb" stroke-width="0.8"/>
<line x1="378.20" y1="581.20" x2="678.20" y2="581.20" stroke="#e3e6eb" stroke-width="0.8"/>
<line x1="378.20" y1="566.25" x2="678.20" y2="566.25" stroke="#e3e6eb" stroke-width="0.8"/>
<line x1="378.20" y1="551.30" x2="678.20" y2="551.30" stroke="#e3e6eb" stroke-width="0.8"/>
<line x1="378.20" y1="551.30" x2="378.20" y2="670.90" stroke="#cfd4dc" stroke-width="1"/>
<line x1="378.20" y1="670.90" x2="678.20" y2="670.90" stroke="#cfd4dc" stroke-width="1"/>
<text x="372.60" y="672.65" text-anchor="end" font-size="6.7" fill="#3e4552" stroke="#3e4552" stroke-width="0.12" textLength="11.93" lengthAdjust="spacingAndGlyphs">0.01</text>
<text x="372.60" y="657.70" text-anchor="end" font-size="6.7" fill="#3e4552" stroke="#3e4552" stroke-width="0.12" textLength="11.93" lengthAdjust="spacingAndGlyphs">0.02</text>
<text x="372.60" y="642.75" text-anchor="end" font-size="6.7" fill="#3e4552" stroke="#3e4552" stroke-width="0.12" textLength="11.93" lengthAdjust="spacingAndGlyphs">0.03</text>
<text x="372.60" y="627.80" text-anchor="end" font-size="6.7" fill="#3e4552" stroke="#3e4552" stroke-width="0.12" textLength="11.93" lengthAdjust="spacingAndGlyphs">0.04</text>
<text x="372.60" y="612.85" text-anchor="end" font-size="6.7" fill="#3e4552" stroke="#3e4552" stroke-width="0.12" textLength="11.93" lengthAdjust="spacingAndGlyphs">0.05</text>
<text x="372.60" y="597.90" text-anchor="end" font-size="6.7" fill="#3e4552" stroke="#3e4552" stroke-width="0.12" textLength="11.93" lengthAdjust="spacingAndGlyphs">0.06</text>
<text x="372.60" y="582.95" text-anchor="end" font-size="6.7" fill="#3e4552" stroke="#3e4552" stroke-width="0.12" textLength="11.93" lengthAdjust="spacingAndGlyphs">0.07</text>
<text x="372.60" y="568.00" text-anchor="end" font-size="6.7" fill="#3e4552" stroke="#3e4552" stroke-width="0.12" textLength="11.93" lengthAdjust="spacingAndGlyphs">0.08</text>
<text x="372.60" y="553.05" text-anchor="end" font-size="6.7" fill="#3e4552" stroke="#3e4552" stroke-width="0.12" textLength="11.93" lengthAdjust="spacingAndGlyphs">0.09</text>
<text x="378.20" y="680.25" text-anchor="middle" font-size="6.6" fill="#3e4552" stroke="#3e4552" stroke-width="0.12">1980</text>
<text x="415.70" y="680.25" text-anchor="middle" font-size="6.6" fill="#3e4552" stroke="#3e4552" stroke-width="0.12">1985</text>
<text x="453.20" y="680.25" text-anchor="middle" font-size="6.6" fill="#3e4552" stroke="#3e4552" stroke-width="0.12">1990</text>
<text x="490.70" y="680.25" text-anchor="middle" font-size="6.6" fill="#3e4552" stroke="#3e4552" stroke-width="0.12">1995</text>
<text x="528.20" y="680.25" text-anchor="middle" font-size="6.6" fill="#3e4552" stroke="#3e4552" stroke-width="0.12">2000</text>
<text x="565.70" y="680.25" text-anchor="middle" font-size="6.6" fill="#3e4552" stroke="#3e4552" stroke-width="0.12">2005</text>
<text x="603.20" y="680.25" text-anchor="middle" font-size="6.6" fill="#3e4552" stroke="#3e4552" stroke-width="0.12">2010</text>
<text x="640.70" y="680.25" text-anchor="middle" font-size="6.6" fill="#3e4552" stroke="#3e4552" stroke-width="0.12">2015</text>
<text x="678.20" y="680.25" text-anchor="middle" font-size="6.6" fill="#3e4552" stroke="#3e4552" stroke-width="0.12">2020</text>
<text x="528.20" y="689.80" text-anchor="middle" font-size="6.8" font-weight="bold" fill="#34435a" stroke="#34435a" stroke-width="0.15" textLength="69.4" lengthAdjust="spacingAndGlyphs">Sample Collection Date</text>
<text transform="translate(356.60,611.10) rotate(-90)" text-anchor="middle" font-size="6.9" font-weight="bold" fill="#34435a" stroke="#34435a" stroke-width="0.15" textLength="69" lengthAdjust="spacingAndGlyphs">Root-to-Tip Divergence</text>
<text x="517.50" y="540.30" text-anchor="middle" font-size="11.5" font-weight="bold" fill="#3a4862" stroke="#3a4862" stroke-width="0.3" textLength="28.98" lengthAdjust="spacingAndGlyphs">G: B2</text>
<text x="384.70" y="561.40" font-size="6.3" fill="#34373d" stroke="#34373d" stroke-width="0.12">R<tspan font-size="4" dy="-2.1">2</tspan><tspan dy="2.1"> = 0.59</tspan></text>
<line x1="396.4" y1="663.1" x2="655.7" y2="582.5" stroke="#4170c0" stroke-width="0.8"/>
<circle cx="396.06" cy="647.88" r="2.05" fill="#3a67c4"/>
<circle cx="407.74" cy="645.69" r="2.05" fill="#3a67c4"/>
<circle cx="462.19" cy="638.25" r="2.05" fill="#3a67c4"/>
<circle cx="462.19" cy="647.88" r="2.05" fill="#3a67c4"/>
<circle cx="483.14" cy="652.54" r="2.05" fill="#3a67c4"/>
<circle cx="501.93" cy="635.59" r="2.05" fill="#3a67c4"/>
<circle cx="496.93" cy="615.36" r="2.05" fill="#3a67c4"/>
<circle cx="499.96" cy="615.36" r="2.05" fill="#3a67c4"/>
<circle cx="506.79" cy="617.99" r="2.05" fill="#3a67c4"/>
<circle cx="522.95" cy="620.88" r="2.05" fill="#3a67c4"/>
<circle cx="536.61" cy="630.99" r="2.05" fill="#3a67c4"/>
<circle cx="544.23" cy="628.1" r="2.05" fill="#3a67c4"/>
<circle cx="545.15" cy="625.74" r="2.05" fill="#3a67c4"/>
<circle cx="554.09" cy="621.14" r="2.05" fill="#3a67c4"/>
<circle cx="555.66" cy="616.8" r="2.05" fill="#3a67c4"/>
<circle cx="562.26" cy="611.09" r="2.05" fill="#3a67c4"/>
<circle cx="564.31" cy="611.61" r="2.05" fill="#3a67c4"/>
<circle cx="566.86" cy="611.09" r="2.05" fill="#3a67c4"/>
<circle cx="568.91" cy="614.16" r="2.05" fill="#3a67c4"/>
<circle cx="569.62" cy="602.2" r="2.05" fill="#3a67c4"/>
<circle cx="577.08" cy="581.97" r="2.05" fill="#3a67c4"/>
<circle cx="577.08" cy="592.5" r="2.05" fill="#3a67c4"/>
<circle cx="577.08" cy="596.79" r="2.05" fill="#3a67c4"/>
<circle cx="577.08" cy="598.83" r="2.05" fill="#3a67c4"/>
<circle cx="577.08" cy="601.39" r="2.05" fill="#3a67c4"/>
<circle cx="577.08" cy="603.94" r="2.05" fill="#3a67c4"/>
<circle cx="577.08" cy="607.01" r="2.05" fill="#3a67c4"/>
<circle cx="577.08" cy="612.12" r="2.05" fill="#3a67c4"/>
<circle cx="577.08" cy="616.2" r="2.05" fill="#3a67c4"/>
<circle cx="577.08" cy="618.25" r="2.05" fill="#3a67c4"/>
<circle cx="577.08" cy="620.29" r="2.05" fill="#3a67c4"/>
<circle cx="577.08" cy="621.31" r="2.05" fill="#3a67c4"/>
<circle cx="582.5" cy="605.47" r="2.05" fill="#3a67c4"/>
<circle cx="584.23" cy="607.01" r="2.05" fill="#3a67c4"/>
<circle cx="584.74" cy="609.05" r="2.05" fill="#3a67c4"/>
<circle cx="584.74" cy="611.61" r="2.05" fill="#3a67c4"/>
<circle cx="581.68" cy="613.14" r="2.05" fill="#3a67c4"/>
<circle cx="582.19" cy="618.45" r="2.05" fill="#3a67c4"/>
<circle cx="583.72" cy="618.45" r="2.05" fill="#3a67c4"/>
<circle cx="584.74" cy="595.77" r="2.05" fill="#3a67c4"/>
<circle cx="588.63" cy="593.72" r="2.05" fill="#3a67c4"/>
<circle cx="589.65" cy="585.85" r="2.05" fill="#3a67c4"/>
<circle cx="592.1" cy="596.79" r="2.05" fill="#3a67c4"/>
<circle cx="592.1" cy="601.9" r="2.05" fill="#3a67c4"/>
<circle cx="589.04" cy="604.96" r="2.05" fill="#3a67c4"/>
<circle cx="589.85" cy="607.52" r="2.05" fill="#3a67c4"/>
<circle cx="592.1" cy="617.53" r="2.05" fill="#3a67c4"/>
<circle cx="596.8" cy="604.45" r="2.05" fill="#3a67c4"/>
<circle cx="596.5" cy="607.52" r="2.05" fill="#3a67c4"/>
<circle cx="599.56" cy="621.82" r="2.05" fill="#3a67c4"/>
<circle cx="603.65" cy="622.54" r="2.05" fill="#3a67c4"/>
<circle cx="604.16" cy="617.53" r="2.05" fill="#3a67c4"/>
<circle cx="604.98" cy="578.7" r="2.05" fill="#3a67c4"/>
<circle cx="626.97" cy="562.25" r="2.05" fill="#3a67c4"/>
<circle cx="635.15" cy="562.25" r="2.05" fill="#3a67c4"/>
<circle cx="627.28" cy="567.36" r="2.05" fill="#3a67c4"/>
<circle cx="629.32" cy="570.22" r="2.05" fill="#3a67c4"/>
<circle cx="635.66" cy="567.66" r="2.05" fill="#3a67c4"/>
<circle cx="637.7" cy="573.28" r="2.05" fill="#3a67c4"/>
<circle cx="636.17" cy="576.35" r="2.05" fill="#3a67c4"/>
<circle cx="635.66" cy="578.39" r="2.05" fill="#3a67c4"/>
<circle cx="628.3" cy="577.37" r="2.05" fill="#3a67c4"/>
<circle cx="627.99" cy="579.93" r="2.05" fill="#3a67c4"/>
<circle cx="633.1" cy="582.28" r="2.05" fill="#3a67c4"/>
<circle cx="632.08" cy="585.34" r="2.05" fill="#3a67c4"/>
<circle cx="638.72" cy="580.44" r="2.05" fill="#3a67c4"/>
<circle cx="640.26" cy="581.26" r="2.05" fill="#3a67c4"/>
<circle cx="644.85" cy="572.77" r="2.05" fill="#3a67c4"/>
<circle cx="651.5" cy="567.66" r="2.05" fill="#3a67c4"/>
<circle cx="654.56" cy="564.91" r="2.05" fill="#3a67c4"/>
<circle cx="652.01" cy="572.26" r="2.05" fill="#3a67c4"/>
<circle cx="653.54" cy="573.28" r="2.05" fill="#3a67c4"/>
<circle cx="653.03" cy="575.33" r="2.05" fill="#3a67c4"/>
<circle cx="645.36" cy="579.93" r="2.05" fill="#3a67c4"/>
<circle cx="646.9" cy="581.97" r="2.05" fill="#3a67c4"/>
<circle cx="648.94" cy="580.95" r="2.05" fill="#3a67c4"/>
<circle cx="650.99" cy="581.46" r="2.05" fill="#3a67c4"/>
<circle cx="653.03" cy="580.44" r="2.05" fill="#3a67c4"/>
<circle cx="655.58" cy="578.91" r="2.05" fill="#3a67c4"/>
<circle cx="655.07" cy="583.5" r="2.05" fill="#3a67c4"/>
<circle cx="620.12" cy="589.94" r="2.05" fill="#3a67c4"/>
<circle cx="618.28" cy="594.74" r="2.05" fill="#3a67c4"/>
<circle cx="619.31" cy="597.3" r="2.05" fill="#3a67c4"/>
<circle cx="617.26" cy="598.83" r="2.05" fill="#3a67c4"/>
<circle cx="614.71" cy="600.06" r="2.05" fill="#3a67c4"/>
<circle cx="617.77" cy="600.36" r="2.05" fill="#3a67c4"/>
<circle cx="626.46" cy="592.7" r="2.05" fill="#3a67c4"/>
<circle cx="627.48" cy="595.26" r="2.05" fill="#3a67c4"/>
<circle cx="626.97" cy="597.3" r="2.05" fill="#3a67c4"/>
<circle cx="630.55" cy="590.66" r="2.05" fill="#3a67c4"/>
<circle cx="632.59" cy="592.7" r="2.05" fill="#3a67c4"/>
<circle cx="634.64" cy="591.68" r="2.05" fill="#3a67c4"/>
<circle cx="636.68" cy="590.66" r="2.05" fill="#3a67c4"/>
<circle cx="638.72" cy="590.15" r="2.05" fill="#3a67c4"/>
<circle cx="640.77" cy="590.45" r="2.05" fill="#3a67c4"/>
<circle cx="631.57" cy="595.26" r="2.05" fill="#3a67c4"/>
<circle cx="633.61" cy="594.74" r="2.05" fill="#3a67c4"/>
<circle cx="635.66" cy="594.23" r="2.05" fill="#3a67c4"/>
<circle cx="637.7" cy="593.72" r="2.05" fill="#3a67c4"/>
<circle cx="639.74" cy="593.21" r="2.05" fill="#3a67c4"/>
<circle cx="629.53" cy="598.83" r="2.05" fill="#3a67c4"/>
<circle cx="631.57" cy="598.32" r="2.05" fill="#3a67c4"/>
<circle cx="634.64" cy="597.81" r="2.05" fill="#3a67c4"/>
<circle cx="636.68" cy="597.3" r="2.05" fill="#3a67c4"/>
<circle cx="639.23" cy="596.79" r="2.05" fill="#3a67c4"/>
<circle cx="639.74" cy="599.85" r="2.05" fill="#3a67c4"/>
<circle cx="625.44" cy="601.9" r="2.05" fill="#3a67c4"/>
<circle cx="628.5" cy="602.92" r="2.05" fill="#3a67c4"/>
<circle cx="630.55" cy="602.41" r="2.05" fill="#3a67c4"/>
<circle cx="632.59" cy="601.9" r="2.05" fill="#3a67c4"/>
<circle cx="614.71" cy="604.96" r="2.05" fill="#3a67c4"/>
<circle cx="616.24" cy="607.01" r="2.05" fill="#3a67c4"/>
<circle cx="617.77" cy="607.01" r="2.05" fill="#3a67c4"/>
<circle cx="619.82" cy="607.52" r="2.05" fill="#3a67c4"/>
<circle cx="621.86" cy="607.52" r="2.05" fill="#3a67c4"/>
<circle cx="623.39" cy="607.01" r="2.05" fill="#3a67c4"/>
<circle cx="624.93" cy="606.5" r="2.05" fill="#3a67c4"/>
<circle cx="626.46" cy="604.96" r="2.05" fill="#3a67c4"/>
<circle cx="629.01" cy="604.96" r="2.05" fill="#3a67c4"/>
<circle cx="631.57" cy="604.96" r="2.05" fill="#3a67c4"/>
<circle cx="652.01" cy="604.96" r="2.05" fill="#3a67c4"/>
<circle cx="589.2" cy="636.61" r="2.05" fill="#3a67c4"/>
<circle cx="590.36" cy="634.27" r="2.05" fill="#3a67c4"/>
<text x="79.6" y="532.5" font-size="10.3" fill="#000" stroke="#000" stroke-width="0.25">F</text>
<text x="175.2" y="532.5" font-size="10.3" fill="#000" stroke="#000" stroke-width="0.25">G</text>
<polygon points="82.9,547.1 86.2,550.4 82.9,553.7 79.6,550.4" fill="#7d0000"/>
<text x="89" y="552.2" font-size="6.1" fill="#000" stroke="#000" stroke-width="0.2" textLength="80" lengthAdjust="spacingAndGlyphs">Number of Ivory Coast samples</text>
<line x1="77.2" y1="644.8" x2="82.9" y2="644.8" stroke="#7f7f7f" stroke-width="1.1"/>
<line x1="82.9" y1="624.3" x2="82.9" y2="665.4" stroke="#7f7f7f" stroke-width="1.1"/>
<line x1="82.9" y1="624.3" x2="110.5" y2="624.3" stroke="#7f7f7f" stroke-width="1.1"/>
<line x1="82.9" y1="665.4" x2="96.4" y2="665.4" stroke="#7f7f7f" stroke-width="1.1"/>
<line x1="110.5" y1="583" x2="110.5" y2="624.3" stroke="#7f7f7f" stroke-width="1.1"/>
<line x1="110.5" y1="583" x2="123.8" y2="583" stroke="#7f7f7f" stroke-width="1.1"/>
<polygon points="123.8,583 157.3,562 157.3,604" fill="#3399cc"/>
<polygon points="110.1,624.3 143.4,603.5 143.4,645.2" fill="#336699"/>
<polygon points="96.4,665.4 129.9,644.4 129.9,686" fill="#99ccff"/>
<text x="141.3" y="585.0" text-anchor="middle" font-size="6.2" fill="#fff" stroke="#fff" stroke-width="0.15">B1</text>
<text x="127.4" y="626.3" text-anchor="middle" font-size="6.2" fill="#fff" stroke="#fff" stroke-width="0.15">B2</text>
<text x="110.5" y="667.4" text-anchor="middle" font-size="6.2" fill="#fff" stroke="#fff" stroke-width="0.15">A</text>
<polygon points="157.3,575.6 164.70000000000002,583 157.3,590.4 149.9,583" fill="#7d0000"/>
<text x="157.3" y="584.6" text-anchor="middle" font-size="6.2" fill="#fff" stroke="#fff" stroke-width="0.25">21</text>
<polygon points="143.4,616.9 150.8,624.3 143.4,631.6999999999999 136.0,624.3" fill="#7d0000"/>
<text x="143.4" y="625.9" text-anchor="middle" font-size="6.2" fill="#fff" stroke="#fff" stroke-width="0.25">22</text>
<polygon points="129.9,658.0 137.3,665.4 129.9,672.8 122.5,665.4" fill="#7d0000"/>
<text x="129.9" y="667.0" text-anchor="middle" font-size="6.2" fill="#fff" stroke="#fff" stroke-width="0.25">20</text>
<line x1="171.8" y1="599.4" x2="177.2" y2="599.4" stroke="#7f7f7f" stroke-width="1.1"/>
<line x1="177.2" y1="540.3" x2="177.2" y2="646.4" stroke="#7f7f7f" stroke-width="1.1"/>
<line x1="177.2" y1="540.3" x2="238.3" y2="540.3" stroke="#7f7f7f" stroke-width="1.1"/>
<line x1="177.2" y1="646.4" x2="182.6" y2="646.4" stroke="#7f7f7f" stroke-width="1.1"/>
<line x1="182.6" y1="624" x2="182.6" y2="665.3" stroke="#7f7f7f" stroke-width="1.1"/>
<line x1="182.6" y1="624" x2="210.6" y2="624" stroke="#7f7f7f" stroke-width="1.1"/>
<line x1="182.6" y1="665.3" x2="196.6" y2="665.3" stroke="#7f7f7f" stroke-width="1.1"/>
<line x1="210.5" y1="582" x2="210.5" y2="624" stroke="#7f7f7f" stroke-width="1.1"/>
<line x1="210.5" y1="582" x2="223.8" y2="582" stroke="#7f7f7f" stroke-width="1.1"/>
<polygon points="238.3,540.3 271.6,520 271.6,560.6" fill="#99ccff"/>
<polygon points="223.8,582 257.1,561.7 257.1,603.2" fill="#336699"/>
<polygon points="210.6,624 243.6,603.2 243.6,644.7" fill="#3399cc"/>
<polygon points="196.6,665.3 229.9,644.7 229.9,686.4" fill="#6699cc"/>
<text x="252" y="542.3" text-anchor="middle" font-size="6.2" fill="#fff" stroke="#fff" stroke-width="0.15">A</text>
<text x="241.8" y="584.0" text-anchor="middle" font-size="6.2" fill="#fff" stroke="#fff" stroke-width="0.15">B2</text>
<text x="228.3" y="626.0" text-anchor="middle" font-size="6.2" fill="#fff" stroke="#fff" stroke-width="0.15">B1</text>
<text x="213.3" y="663" text-anchor="middle" font-size="6.2" fill="#fff" stroke="#fff" stroke-width="0.15">B</text>
<text x="213.3" y="669.6" text-anchor="middle" font-size="6.2" fill="#fff" stroke="#fff" stroke-width="0.15">Early</text>
<polygon points="271.6,532.65 278.95000000000005,540.0 271.6,547.35 264.25,540.0" fill="#7d0000"/>
<text x="271.6" y="541.6" text-anchor="middle" font-size="6.2" fill="#fff" stroke="#fff" stroke-width="0.25">21</text>
<polygon points="257.1,574.65 264.45000000000005,582 257.1,589.35 249.75000000000003,582" fill="#7d0000"/>
<text x="257.1" y="583.6" text-anchor="middle" font-size="6.2" fill="#fff" stroke="#fff" stroke-width="0.25">26</text>
<polygon points="243.6,616.65 250.95,624 243.6,631.35 236.25,624" fill="#7d0000"/>
<text x="243.6" y="625.6" text-anchor="middle" font-size="6.2" fill="#fff" stroke="#fff" stroke-width="0.25">2</text>
<polygon points="229.9,657.9499999999999 237.25,665.3 229.9,672.65 222.55,665.3" fill="#7d0000"/>
<text x="229.9" y="666.9" text-anchor="middle" font-size="6.2" fill="#fff" stroke="#fff" stroke-width="0.25">1</text>
</svg>
</body></html>
